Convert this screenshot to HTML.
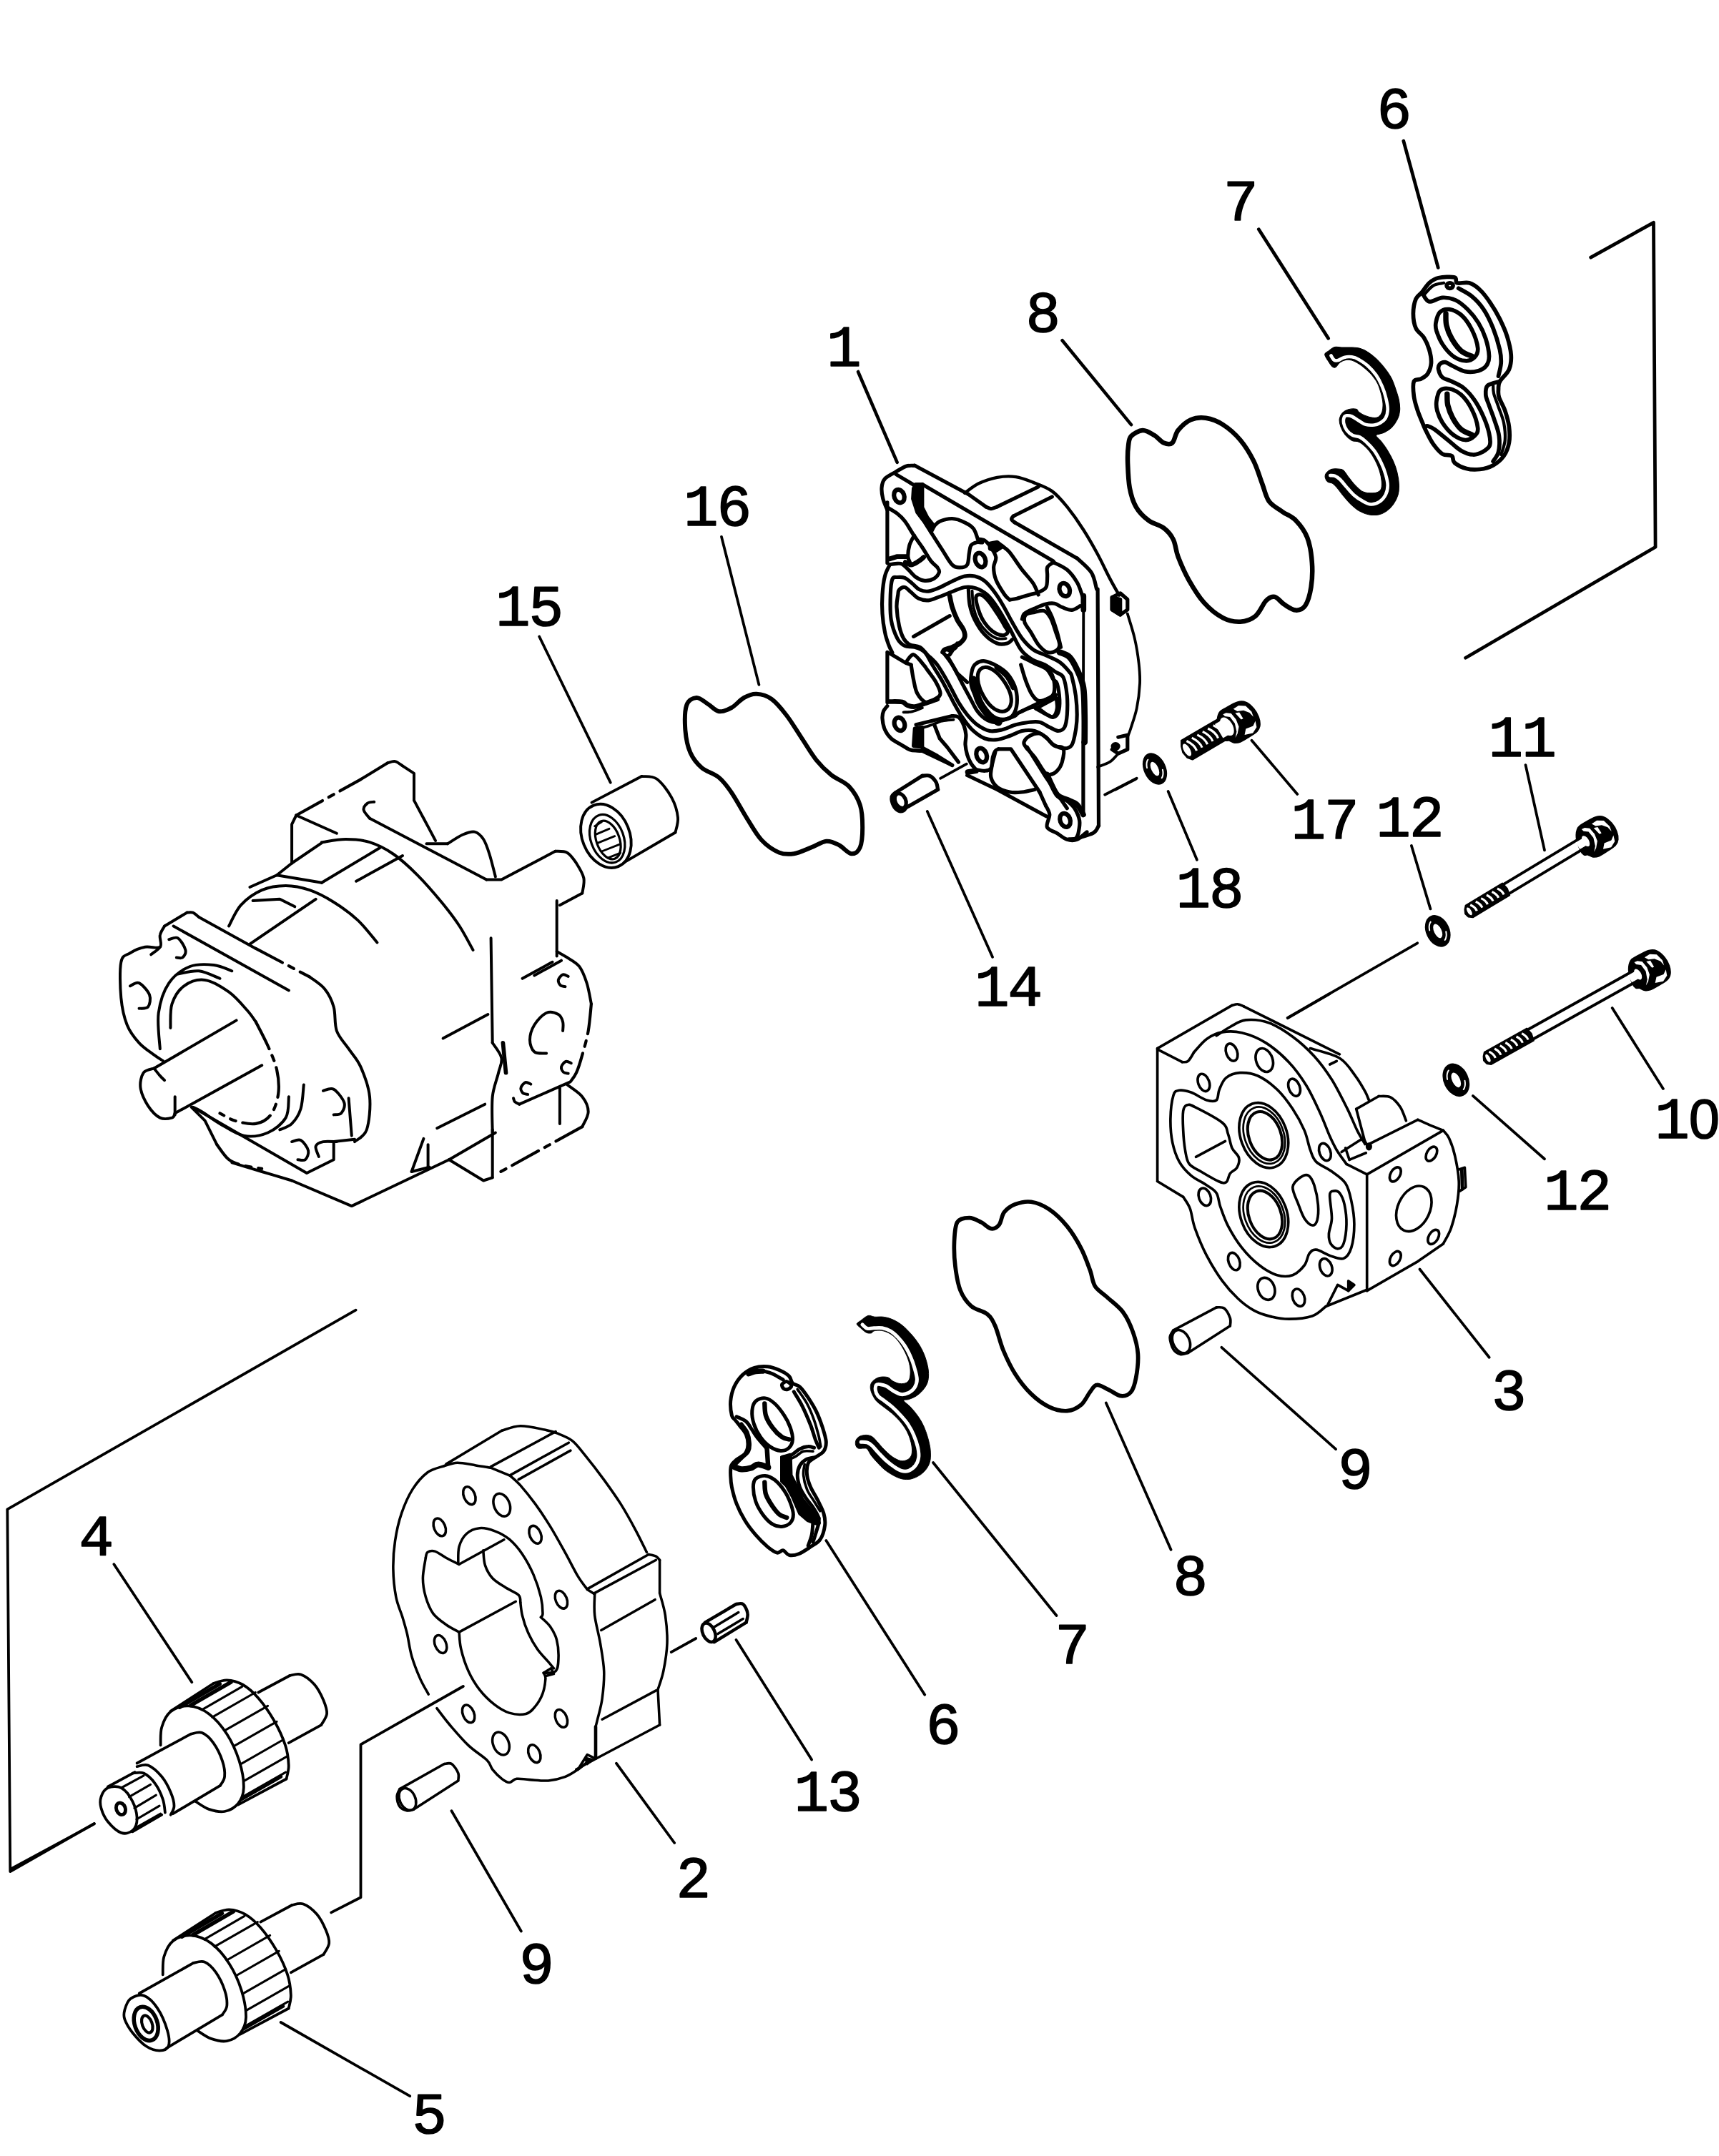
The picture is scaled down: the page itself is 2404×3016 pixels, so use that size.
<!DOCTYPE html>
<html><head><meta charset="utf-8"><title>Gear pump exploded view</title>
<style>
html,body{margin:0;padding:0;background:#fff;}
svg{display:block;}
text{font-family:"Liberation Mono",monospace;fill:#000;stroke:#000;stroke-width:1.6px;stroke-linejoin:round;}
</style></head><body>
<svg width="2404" height="3016" viewBox="0 0 2404 3016" fill="none" stroke="#000" stroke-width="5.4" stroke-linecap="round" stroke-linejoin="round">
<rect x="0" y="0" width="2404" height="3016" fill="#fff" stroke="none"/>
<!-- p01_top67.py -->
<path d="M1852.7 495.7C1852.9 493.5 1855.8 492.6 1858.1 490.9C1860.4 489.1 1863.5 486.2 1866.5 485.4C1869.5 484.6 1872.2 485.9 1876.2 486.0C1880.2 486.1 1886.4 485.8 1890.6 486.0C1894.9 486.2 1897.9 486.2 1901.5 487.2C1905.1 488.2 1908.5 489.6 1912.3 492.1C1916.2 494.5 1920.4 497.9 1924.4 501.7C1928.4 505.5 1932.8 510.3 1936.5 515.0C1940.1 519.6 1943.5 524.4 1946.1 529.4C1948.7 534.5 1950.4 540.1 1952.1 545.1C1953.8 550.1 1955.4 554.8 1956.4 559.6C1957.3 564.4 1957.9 569.6 1957.6 574.0C1957.3 578.5 1956.5 582.1 1954.5 586.1C1952.6 590.1 1949.3 594.9 1946.1 598.2C1942.9 601.4 1938.9 603.6 1935.3 605.4C1931.6 607.2 1925.0 607.0 1924.4 609.0C1923.8 611.0 1929.0 614.0 1931.6 617.5C1934.2 620.9 1937.3 624.9 1940.1 629.5C1942.9 634.1 1946.2 640.0 1948.5 645.2C1950.8 650.4 1952.6 655.4 1953.9 660.9C1955.2 666.3 1956.2 672.5 1956.4 677.7C1956.6 683.0 1956.5 687.6 1955.1 692.2C1953.8 696.8 1951.2 701.7 1948.5 705.5C1945.8 709.3 1942.3 712.7 1938.9 715.1C1935.5 717.5 1932.0 719.1 1928.0 719.9C1924.0 720.7 1919.2 720.7 1914.8 719.9C1910.3 719.1 1905.7 717.5 1901.5 715.1C1897.3 712.7 1893.3 709.1 1889.4 705.5C1885.6 701.9 1881.8 697.2 1878.6 693.4C1875.4 689.6 1872.6 685.4 1870.1 682.6C1867.7 679.7 1866.3 677.9 1864.1 676.5C1861.9 675.1 1858.7 675.5 1856.9 674.1C1855.1 672.7 1853.7 670.1 1853.3 668.1C1852.9 666.1 1853.1 664.0 1854.5 662.1C1855.9 660.2 1858.9 657.6 1861.7 656.6C1864.5 655.6 1868.5 655.8 1871.3 656.0C1874.2 656.2 1876.4 656.2 1878.6 657.8C1880.8 659.5 1882.2 662.6 1884.6 665.7C1887.0 668.8 1889.6 672.9 1893.1 676.5C1896.5 680.2 1901.1 685.2 1905.1 687.4C1909.1 689.6 1913.5 689.6 1917.2 689.8C1920.8 690.0 1924.4 689.6 1926.8 688.6C1929.2 687.6 1930.7 686.4 1931.6 683.8C1932.5 681.2 1932.6 677.1 1932.2 672.9C1931.8 668.7 1930.7 663.3 1929.2 658.4C1927.7 653.6 1925.6 648.6 1923.2 644.0C1920.8 639.4 1917.8 634.5 1914.8 630.7C1911.7 626.9 1907.9 623.3 1905.1 621.1C1902.3 618.9 1900.3 618.3 1897.9 617.5C1895.5 616.6 1893.5 617.9 1890.6 616.2C1887.8 614.6 1883.6 611.0 1881.0 607.8C1878.4 604.6 1876.3 600.6 1875.0 597.0C1873.7 593.3 1872.8 589.3 1873.2 586.1C1873.6 582.9 1875.3 579.9 1877.4 577.7C1879.5 575.5 1882.6 573.7 1885.8 572.8C1889.0 571.9 1894.3 571.6 1896.7 572.2C1899.1 572.8 1898.3 575.0 1900.3 576.5C1902.3 578.0 1905.5 580.0 1908.7 581.3C1911.9 582.6 1916.4 584.0 1919.6 584.3C1922.8 584.6 1925.8 584.4 1928.0 583.1C1930.2 581.8 1931.8 579.6 1932.8 576.5C1933.8 573.3 1934.2 568.6 1934.0 564.4C1933.8 560.2 1932.8 555.8 1931.6 551.1C1930.4 546.5 1928.8 540.9 1926.8 536.7C1924.8 532.4 1922.4 529.2 1919.6 525.8C1916.8 522.4 1913.1 519.0 1909.9 516.2C1906.7 513.4 1903.5 510.9 1900.3 508.9C1897.1 506.9 1893.7 505.0 1890.6 504.1C1887.6 503.2 1885.0 503.0 1882.2 503.5C1879.4 504.0 1876.2 505.4 1873.8 507.1C1871.3 508.8 1869.5 512.9 1867.7 513.8C1865.9 514.7 1864.7 514.2 1862.9 512.6C1861.1 510.9 1858.6 506.9 1856.9 504.1C1855.2 501.3 1852.5 497.9 1852.7 495.7Z" stroke-width="1.06" fill="#000"/>
<path d="M1861.5 497.5C1862.1 498.5 1863.9 502.4 1865.6 503.5C1867.2 504.6 1869.0 504.7 1871.3 504.1C1873.7 503.5 1876.6 500.7 1879.8 499.9C1883.0 499.1 1887.2 498.8 1890.6 499.3C1894.1 499.8 1896.7 500.9 1900.3 502.9C1903.9 504.9 1908.3 507.7 1912.3 511.3C1916.4 515.0 1921.0 519.8 1924.4 524.6C1927.8 529.4 1930.5 534.9 1932.8 540.3C1935.2 545.7 1937.0 551.7 1938.3 557.2C1939.6 562.6 1940.8 568.2 1940.7 572.8C1940.6 577.5 1939.4 581.8 1937.7 584.9C1936.0 588.0 1933.0 589.9 1930.4 591.5C1927.8 593.1 1925.4 594.1 1922.0 594.5C1918.6 594.9 1913.5 594.9 1909.9 593.9C1906.3 592.9 1903.5 590.4 1900.3 588.5C1897.1 586.6 1893.5 583.7 1890.6 582.5C1887.8 581.3 1885.2 581.1 1883.4 581.3C1881.6 581.5 1880.5 581.9 1879.8 583.7C1879.1 585.5 1878.6 589.1 1879.2 592.1C1879.8 595.1 1881.3 599.0 1883.4 601.8C1885.5 604.6 1888.8 607.4 1891.8 609.0C1894.9 610.6 1898.3 609.8 1901.5 611.4C1904.7 613.0 1907.7 615.4 1911.1 618.7C1914.6 621.9 1918.6 625.9 1922.0 630.7C1925.4 635.5 1929.0 642.2 1931.6 647.6C1934.2 653.0 1936.2 658.0 1937.7 663.3C1939.2 668.5 1940.7 674.1 1940.7 678.9C1940.7 683.8 1939.6 688.4 1937.7 692.2C1935.8 696.0 1932.6 699.6 1929.2 701.9C1925.8 704.1 1921.2 705.7 1917.2 705.5C1913.1 705.3 1909.1 702.9 1905.1 700.6C1901.1 698.4 1896.9 695.6 1893.1 692.2C1889.2 688.8 1885.4 683.8 1882.2 680.2C1879.0 676.5 1876.4 672.9 1873.8 670.5C1871.1 668.1 1868.8 666.6 1866.5 665.7C1864.3 664.8 1861.3 665.2 1860.3 665.1" stroke="#fff" stroke-width="4.6"/>
<path d="M1988.5 408.9C1991.6 405.2 1994.8 399.2 1998.7 395.8C2002.6 392.5 2005.8 390.1 2011.7 388.8C2017.6 387.5 2029.7 386.8 2034.1 388.0C2038.4 389.2 2034.4 394.5 2037.8 395.8C2041.2 397.1 2049.3 394.3 2054.6 395.8C2059.8 397.4 2064.5 400.5 2069.4 405.2C2074.4 409.8 2079.7 416.9 2084.3 423.8C2089.0 430.6 2093.5 438.4 2097.4 446.1C2101.2 453.9 2105.0 461.9 2107.6 470.3C2110.2 478.7 2112.7 488.6 2113.2 496.4C2113.7 504.1 2113.0 510.6 2110.4 516.8C2107.8 523.1 2099.9 528.9 2097.4 533.6C2094.9 538.3 2095.7 541.0 2095.5 544.8C2095.4 548.5 2094.9 551.0 2096.4 555.9C2098.0 560.9 2102.5 567.7 2104.8 574.6C2107.1 581.4 2109.5 589.4 2110.4 596.9C2111.3 604.3 2111.6 612.4 2110.4 619.2C2109.2 626.1 2106.7 632.6 2103.0 637.8C2099.2 643.1 2093.6 647.8 2088.1 650.9C2082.5 654.0 2075.7 655.7 2069.4 656.5C2063.2 657.2 2056.7 657.1 2050.8 655.5C2044.9 654.0 2037.5 650.1 2034.1 647.2C2030.7 644.2 2033.1 639.9 2030.4 637.8C2027.6 635.8 2021.7 637.8 2017.3 635.1C2013.0 632.3 2008.0 626.2 2004.3 621.1C2000.6 616.0 1997.6 609.6 1995.0 604.3C1992.3 599.1 1990.6 594.7 1988.5 589.4C1986.3 584.2 1983.8 578.6 1982.0 572.7C1980.1 566.8 1978.1 560.6 1977.3 554.1C1976.5 547.6 1975.6 537.6 1977.3 533.6C1979.0 529.6 1984.3 531.7 1987.5 529.9C1990.8 528.0 1994.5 526.2 1996.8 522.4C1999.2 518.7 2001.2 513.1 2001.5 507.5C2001.8 502.0 2000.4 494.8 1998.7 488.9C1997.0 483.0 1994.4 477.1 1991.3 472.2C1988.2 467.2 1982.6 464.7 1980.1 459.1C1977.6 453.6 1976.4 445.5 1976.4 438.7C1976.4 431.8 1978.1 423.1 1980.1 418.2C1982.1 413.2 1985.4 412.6 1988.5 408.9Z" stroke-width="5.72" fill="#fff"/>
<path d="M1989.4 410.7C1991.0 412.6 1994.1 421.0 1998.7 421.9C2003.4 422.8 2011.1 416.6 2017.3 416.3C2023.5 416.0 2030.0 417.3 2035.9 420.0C2041.8 422.8 2047.4 427.8 2052.7 433.1C2058.0 438.4 2063.4 444.9 2067.6 451.7C2071.8 458.5 2075.3 466.3 2077.8 474.0C2080.3 481.8 2082.3 492.0 2082.5 498.2C2082.6 504.4 2081.2 507.8 2078.8 511.3C2076.3 514.7 2072.5 517.3 2067.6 518.7C2062.6 520.1 2055.2 520.9 2049.0 519.6C2042.8 518.4 2035.0 513.4 2030.4 511.3C2025.7 509.1 2023.8 506.9 2021.0 506.6C2018.3 506.3 2015.2 507.7 2013.6 509.4C2012.0 511.1 2011.1 513.7 2011.7 516.8C2012.4 519.9 2014.2 525.2 2017.3 528.0C2020.4 530.8 2025.4 531.1 2030.4 533.6C2035.3 536.1 2041.8 538.6 2047.1 542.9C2052.4 547.3 2057.3 552.8 2062.0 559.7C2066.7 566.5 2071.6 576.1 2075.0 583.9C2078.4 591.6 2081.1 599.7 2082.5 606.2C2083.9 612.7 2085.0 618.6 2083.4 623.0C2081.9 627.3 2077.0 630.1 2073.2 632.3C2069.3 634.4 2065.1 636.3 2060.1 636.0C2055.2 635.7 2049.3 633.8 2043.4 630.4C2037.5 627.0 2031.0 620.5 2024.8 615.5C2018.6 610.5 2010.8 603.9 2006.2 600.6C2001.5 597.4 1999.0 596.6 1996.8 596.0C1994.7 595.3 1993.7 596.7 1993.1 596.9" stroke-width="5.72"/>
<path d="M2039.7 403.3C2042.8 405.2 2052.4 409.5 2058.3 414.5C2064.2 419.4 2070.1 425.6 2075.0 433.1C2080.0 440.5 2084.3 449.8 2088.1 459.1C2091.8 468.4 2095.5 480.9 2097.4 488.9C2099.2 497.0 2099.5 501.3 2099.2 507.5C2098.9 513.7 2096.1 523.1 2095.5 526.2" stroke-width="5.72"/>
<path d="M2097.4 533.6C2094.6 534.5 2083.9 536.1 2080.6 539.2C2077.4 542.3 2077.5 547.6 2077.8 552.2C2078.1 556.9 2080.5 561.2 2082.5 567.1C2084.5 573.0 2087.6 580.4 2089.9 587.6C2092.3 594.7 2095.5 602.5 2096.4 609.9C2097.4 617.4 2096.9 626.4 2095.5 632.3C2094.1 638.2 2089.3 643.1 2088.1 645.3" stroke-width="5.72"/>
<path d="M2088.1 537.3C2088.2 539.5 2087.8 545.1 2089.0 550.4C2090.2 555.6 2093.2 562.1 2095.5 569.0C2097.8 575.8 2101.4 583.6 2103.0 591.3C2104.5 599.1 2105.4 608.1 2104.8 615.5C2104.2 623.0 2100.2 632.6 2099.2 636.0" stroke-width="4.24"/>
<path d="M1991.3 412.6C1993.4 410.4 1999.6 402.4 2004.3 399.6C2008.9 396.8 2016.7 396.5 2019.2 395.8" stroke-width="4.24"/>
<ellipse cx="2027.6" cy="399.6" rx="4.5" ry="3.7" transform="rotate(0 2027.6 399.6)" stroke-width="5.72"/>
<path d="M2008.0 451.7C2008.8 447.3 2010.5 440.0 2013.6 436.8C2016.7 433.6 2021.7 432.1 2026.6 432.7C2031.6 433.3 2038.1 435.8 2043.4 440.5C2048.7 445.2 2054.4 453.2 2058.3 461.0C2062.2 468.8 2066.0 480.5 2066.7 487.1C2067.3 493.6 2064.9 497.1 2062.0 500.1C2059.1 503.0 2053.9 505.1 2049.0 504.7C2044.0 504.4 2037.5 502.1 2032.2 498.2C2026.9 494.4 2021.2 487.4 2017.3 481.5C2013.4 475.6 2010.5 467.8 2008.9 462.9C2007.4 457.9 2007.2 456.0 2008.0 451.7Z" stroke-width="5.72"/>
<path d="M2022.0 438.7C2022.1 441.5 2021.5 449.5 2022.9 455.4C2024.3 461.3 2026.9 468.1 2030.4 474.0C2033.8 479.9 2038.7 486.8 2043.4 490.8C2048.0 494.8 2055.8 497.0 2058.3 498.2" stroke-width="7.42"/>
<path d="M2008.9 561.5C2009.6 556.9 2010.7 549.6 2013.6 546.6C2016.5 543.7 2021.7 542.9 2026.6 543.8C2031.6 544.8 2038.1 547.4 2043.4 552.2C2048.7 557.0 2054.4 564.9 2058.3 572.7C2062.2 580.4 2066.0 592.5 2066.7 598.8C2067.3 605.0 2064.9 607.1 2062.0 609.9C2059.1 612.7 2053.9 615.8 2049.0 615.5C2044.0 615.2 2037.5 612.1 2032.2 608.1C2026.9 604.0 2021.0 596.9 2017.3 591.3C2013.6 585.7 2011.3 579.5 2009.9 574.6C2008.5 569.6 2008.3 566.2 2008.9 561.5Z" stroke-width="5.72"/>
<path d="M2023.8 551.3C2024.0 553.9 2023.4 561.4 2024.8 567.1C2026.2 572.8 2029.1 580.1 2032.2 585.7C2035.3 591.3 2039.0 596.9 2043.4 600.6C2047.7 604.3 2055.8 606.8 2058.3 608.1" stroke-width="7.42"/>
<path d="M1962.8 197.2L2011.2 374.4" stroke-width="4.77"/>
<path d="M1760.3 320.8L1857.6 473.3" stroke-width="4.77"/>
<path d="M2224.7 360.2L2312.5 311.3L2315.1 765.2L2049.6 920.3" stroke-width="4.77"/>
<!-- p02_top8.py -->
<path d="M1582.0 610.1C1585.3 606.6 1592.7 602.3 1598.0 602.1C1603.4 601.9 1609.2 605.9 1614.1 608.8C1619.0 611.7 1623.2 617.7 1627.5 619.5C1631.7 621.3 1636.2 622.4 1639.5 619.5C1642.8 616.6 1643.3 607.5 1647.5 602.1C1651.8 596.8 1658.5 590.3 1664.9 587.4C1671.4 584.5 1678.7 583.6 1686.3 584.7C1693.9 585.8 1702.4 588.9 1710.4 594.1C1718.4 599.2 1727.4 607.0 1734.5 615.5C1741.6 624.0 1748.1 634.7 1753.2 644.9C1758.4 655.2 1761.7 667.7 1765.3 677.0C1768.8 686.4 1770.0 694.6 1774.6 701.1C1779.3 707.6 1787.1 711.4 1793.4 715.8C1799.6 720.3 1806.3 721.9 1812.1 727.9C1817.9 733.9 1824.4 742.1 1828.2 752.0C1831.9 761.8 1834.0 775.2 1834.8 786.7C1835.7 798.3 1835.1 811.5 1833.5 821.5C1831.9 831.6 1829.0 841.6 1825.5 847.0C1821.9 852.3 1817.0 853.9 1812.1 853.6C1807.2 853.4 1801.0 848.7 1796.0 845.6C1791.1 842.5 1786.9 835.8 1782.7 834.9C1778.4 834.0 1775.1 835.8 1770.6 840.3C1766.2 844.7 1761.9 856.8 1755.9 861.7C1749.9 866.6 1742.1 869.3 1734.5 869.7C1726.9 870.1 1718.9 868.8 1710.4 864.4C1701.9 859.9 1691.7 851.9 1683.7 842.9C1675.6 834.0 1668.3 821.5 1662.2 810.8C1656.2 800.1 1651.1 788.1 1647.5 778.7C1644.0 769.4 1644.2 761.3 1640.8 754.6C1637.5 747.9 1633.3 743.0 1627.5 738.6C1621.7 734.1 1612.5 732.8 1606.1 727.9C1599.6 723.0 1593.0 716.7 1588.7 709.1C1584.3 701.6 1581.7 692.6 1579.8 682.4C1577.9 672.1 1577.5 657.4 1577.1 647.6C1576.8 637.8 1577.1 629.8 1578.0 623.5C1578.8 617.3 1578.6 613.7 1582.0 610.1Z" stroke-width="6.50"/>
<path d="M1485.6 476.3L1582.0 594.1" stroke-width="4.6"/>
<!-- p03_housing1.py -->
<path d="M1240.9 713.3C1239.9 710.7 1236.1 702.8 1234.8 697.6C1233.5 692.4 1232.7 686.5 1233.1 681.9C1233.5 677.2 1234.4 673.2 1237.5 669.7C1240.5 666.2 1246.5 663.9 1251.4 660.9C1256.4 658.0 1262.5 653.8 1267.1 652.2C1271.8 650.6 1277.3 651.5 1279.3 651.3" stroke-width="5.18"/>
<path d="M1279.3 651.3L1354.4 691.5" stroke-width="5.18"/>
<path d="M1253.2 663.6L1278.5 678.7" stroke-width="5.18"/>
<path d="M1280.2 677.5L1289.8 677.5L1289.8 709.8L1296.8 723.8L1306.4 736.0L1302.0 744.7L1293.3 730.8L1282.8 716.8L1276.7 697.6L1277.6 683.6Z" stroke-width="5.18" fill="#000"/>
<path d="M1289.8 677.5L1473.1 784.9" stroke-width="5.18"/>
<path d="M1240.9 702.8L1240.9 787.5" stroke-width="5.18"/>
<path d="M1240.9 709.8C1243.3 711.3 1250.8 715.3 1254.9 718.5C1259.0 721.7 1261.6 724.1 1265.4 729.0C1269.2 733.9 1273.5 742.1 1277.6 748.2C1281.7 754.3 1285.7 759.5 1289.8 765.7C1293.9 771.8 1298.5 780.2 1302.0 784.9C1305.5 789.5 1308.9 791.0 1310.8 793.6C1312.6 796.2 1314.1 797.9 1313.4 800.6C1312.6 803.2 1309.7 807.3 1306.4 809.3C1303.0 811.3 1297.5 812.7 1293.3 812.4C1289.1 812.1 1284.9 810.1 1281.1 807.5C1277.3 805.0 1273.8 800.1 1270.6 797.1C1267.4 794.0 1264.5 790.7 1261.9 789.2C1259.3 787.8 1257.8 788.3 1254.9 788.3C1252.0 788.4 1246.2 789.5 1244.4 789.7" stroke-width="5.18"/>
<path d="M1278.5 749.1C1277.4 751.3 1273.5 757.4 1272.0 762.2C1270.6 767.0 1269.7 773.8 1269.7 777.9C1269.8 781.9 1271.9 785.1 1272.4 786.6" stroke-width="5.18"/>
<path d="M1266.2 786.6C1267.6 787.2 1271.0 790.3 1274.1 790.1C1277.2 789.9 1281.7 786.9 1284.6 785.2C1287.5 783.5 1290.4 780.5 1291.6 779.6" stroke-width="6.72"/>
<path d="M1244.4 781.7L1254.0 778.7L1267.1 778.7" stroke-width="6.72"/>
<path d="M1302.0 744.7C1304.6 748.8 1312.8 761.6 1317.7 769.1C1322.7 776.7 1327.6 786.0 1331.7 790.1C1335.8 794.2 1338.7 793.9 1342.2 793.9C1345.7 793.9 1350.5 793.3 1352.6 790.1C1354.8 786.8 1354.4 778.9 1355.3 774.4C1356.1 769.9 1356.1 765.7 1357.9 763.0C1359.6 760.4 1363.1 759.3 1365.7 758.7C1368.3 758.0 1372.3 759.0 1373.6 759.0" stroke-width="5.18"/>
<path d="M1306.4 736.0C1307.7 734.9 1310.0 731.1 1314.2 729.4C1318.5 727.6 1325.9 725.3 1331.7 725.5C1337.5 725.7 1344.2 728.4 1349.1 730.8C1354.1 733.1 1358.3 735.5 1361.4 739.5C1364.4 743.4 1366.5 751.8 1367.5 754.3" stroke-width="5.18"/>
<path d="M1367.5 754.3C1369.1 754.6 1374.0 754.2 1377.1 756.1C1380.1 757.9 1383.2 761.7 1385.8 765.7C1388.4 769.6 1392.1 775.0 1392.8 779.6C1393.4 784.3 1389.6 788.3 1389.6 793.6C1389.6 798.8 1390.2 804.6 1392.8 811.0C1395.3 817.4 1401.8 827.3 1405.0 832.0C1408.2 836.6 1410.8 837.8 1412.0 839.0" stroke-width="5.18"/>
<path d="M1384.0 760.4L1394.5 758.3L1402.4 764.3L1392.8 770.5L1384.4 767.7Z" stroke-width="5.18" fill="#000"/>
<path d="M1402.4 764.3C1404.0 765.7 1407.5 767.2 1412.0 772.6C1416.5 778.1 1423.9 789.8 1429.4 797.1C1435.0 804.3 1441.3 810.4 1445.1 816.3C1448.9 822.1 1450.9 829.4 1452.1 832.0" stroke-width="5.18"/>
<path d="M1412.0 839.0C1413.7 838.7 1417.8 838.4 1422.4 837.2C1427.1 836.0 1435.0 833.4 1439.9 832.0C1444.8 830.5 1448.3 830.2 1452.1 828.5C1456.0 826.7 1460.8 825.3 1462.9 821.5C1465.0 817.7 1464.4 810.4 1464.7 805.8C1465.0 801.1 1463.3 796.8 1464.7 793.6C1466.1 790.4 1471.7 787.8 1473.1 786.6" stroke-width="5.18"/>
<ellipse cx="1371.0" cy="783.5" rx="7.0" ry="10.1" transform="rotate(-20 1371.0 783.5)" stroke-width="6.24"/>
<ellipse cx="1257.5" cy="694.1" rx="7.0" ry="9.4" transform="rotate(-20 1257.5 694.1)" stroke-width="6.24"/>
<path d="M1473.1 786.6C1476.3 788.3 1486.7 792.4 1492.3 797.1C1497.8 801.7 1502.7 808.7 1506.2 814.5C1509.7 820.3 1511.7 828.0 1513.2 832.0C1514.7 835.9 1514.9 837.1 1515.3 838.1" stroke-width="5.18"/>
<ellipse cx="1488.8" cy="825.0" rx="7.0" ry="9.4" transform="rotate(-20 1488.8 825.0)" stroke-width="6.24"/>
<path d="M1510.6 847.7C1508.7 848.6 1503.4 853.0 1499.2 853.3C1495.0 853.6 1489.3 850.9 1485.3 849.4C1481.2 847.9 1478.6 844.9 1474.8 844.2C1471.0 843.5 1467.2 843.9 1462.6 845.1C1457.9 846.2 1451.8 849.0 1446.9 851.2C1441.9 853.4 1435.8 855.7 1432.9 858.2C1430.0 860.6 1430.0 864.7 1429.4 866.0" stroke-width="5.18"/>
<path d="M1244.4 789.7C1243.3 792.4 1239.2 798.8 1237.5 805.8C1235.7 812.8 1234.5 823.2 1234.0 832.0C1233.4 840.7 1233.4 849.4 1234.0 858.2C1234.5 866.9 1236.0 877.1 1237.5 884.3C1238.9 891.6 1240.9 897.0 1242.7 901.8C1244.4 906.6 1247.1 911.2 1247.9 913.1" stroke-width="5.18"/>
<path d="M1247.9 810.2C1249.5 806.1 1252.0 807.8 1254.9 807.5C1257.8 807.2 1261.9 807.0 1265.4 808.4C1268.9 809.9 1272.4 813.5 1275.8 816.3C1279.3 819.0 1282.5 823.2 1286.3 825.0C1290.1 826.8 1293.9 827.6 1298.5 827.1C1303.2 826.6 1308.7 824.2 1314.2 821.8C1319.8 819.5 1325.9 815.7 1331.7 813.1C1337.5 810.5 1343.9 807.3 1349.1 806.1C1354.4 805.0 1358.5 805.0 1363.1 806.1C1367.8 807.2 1372.4 809.1 1377.1 812.8C1381.7 816.5 1386.7 822.7 1391.0 828.5C1395.4 834.3 1399.2 840.7 1403.2 847.7C1407.3 854.7 1411.1 862.8 1415.5 870.4C1419.8 877.9 1424.5 886.7 1429.4 893.1C1434.4 899.5 1439.3 904.7 1445.1 908.8C1450.9 912.8 1458.2 914.6 1464.3 917.5C1470.4 920.4 1476.5 922.4 1481.8 926.2C1487.0 930.0 1492.8 936.6 1495.7 940.2C1498.7 943.7 1497.8 941.9 1499.2 947.5C1500.7 953.0 1503.3 964.9 1504.5 973.6C1505.6 982.4 1506.2 992.0 1506.2 999.8C1506.2 1007.7 1505.6 1013.8 1504.5 1020.8C1503.3 1027.7 1501.8 1037.3 1499.2 1041.7C1496.6 1046.1 1493.1 1046.9 1488.8 1046.9C1484.4 1046.9 1477.4 1044.3 1473.1 1041.7C1468.7 1039.1 1466.9 1034.4 1462.6 1031.2C1458.2 1028.0 1452.4 1023.9 1446.9 1022.5C1441.3 1021.0 1435.2 1021.3 1429.4 1022.5C1423.6 1023.7 1417.8 1027.4 1412.0 1029.5C1406.2 1031.5 1400.3 1034.1 1394.5 1034.7C1388.7 1035.3 1382.9 1035.3 1377.1 1033.0C1371.3 1030.6 1364.9 1025.7 1359.6 1020.8C1354.4 1015.8 1350.0 1009.7 1345.7 1003.3C1341.3 996.9 1338.1 990.8 1333.4 982.4C1328.8 973.9 1322.7 961.4 1317.7 952.7C1312.8 944.0 1307.8 936.7 1303.8 930.0C1299.7 923.3 1297.4 916.4 1293.3 912.3C1289.2 908.1 1284.0 906.7 1279.3 905.3C1274.7 903.8 1269.4 905.6 1265.4 903.5C1261.3 901.5 1258.1 899.2 1254.9 893.1C1251.7 886.9 1247.8 877.1 1246.2 866.9C1244.6 856.7 1245.0 841.4 1245.3 832.0C1245.6 822.5 1246.3 814.2 1247.9 810.2Z" stroke-width="5.18"/>
<path d="M1255.8 832.0C1256.4 827.9 1255.9 826.7 1257.5 825.0C1259.1 823.2 1262.6 820.9 1265.4 821.5C1268.1 822.1 1270.9 825.9 1274.1 828.5C1277.3 831.1 1280.5 835.3 1284.6 837.2C1288.6 839.1 1293.6 840.3 1298.5 839.8C1303.5 839.4 1308.7 836.6 1314.2 834.6C1319.8 832.6 1325.9 829.8 1331.7 827.6C1337.5 825.4 1343.6 822.3 1349.1 821.5C1354.7 820.7 1359.6 821.2 1364.9 822.9C1370.1 824.6 1375.6 827.6 1380.6 832.0C1385.5 836.4 1389.3 841.6 1394.5 849.4C1399.8 857.3 1406.4 869.2 1412.0 879.1C1417.5 889.0 1422.4 901.5 1427.7 908.8C1432.9 916.0 1437.9 919.2 1443.4 922.7C1448.9 926.2 1455.3 926.8 1460.8 929.7C1466.4 932.6 1472.2 937.2 1476.5 940.2C1480.9 943.1 1484.4 941.9 1487.0 947.5C1489.6 953.0 1491.4 964.9 1492.3 973.6C1493.1 982.4 1492.8 992.5 1492.3 999.8C1491.7 1007.1 1490.8 1013.5 1488.8 1017.3C1486.7 1021.0 1483.5 1022.5 1480.0 1022.5C1476.5 1022.5 1472.2 1019.3 1467.8 1017.3C1463.5 1015.2 1458.5 1011.4 1453.9 1010.3C1449.2 1009.1 1445.4 1009.7 1439.9 1010.3C1434.4 1010.9 1427.1 1012.0 1420.7 1013.8C1414.3 1015.5 1407.6 1019.3 1401.5 1020.8C1395.4 1022.2 1389.9 1023.7 1384.0 1022.5C1378.2 1021.3 1371.8 1017.6 1366.6 1013.8C1361.4 1010.0 1357.0 1005.0 1352.6 999.8C1348.3 994.6 1345.1 990.2 1340.4 982.4C1335.8 974.5 1329.7 961.4 1324.7 952.7C1319.8 944.0 1315.4 936.2 1310.8 930.0C1306.1 923.8 1300.9 919.9 1296.8 915.7C1292.7 911.6 1290.4 907.6 1286.3 905.3C1282.2 902.9 1276.1 903.8 1272.4 901.8C1268.6 899.7 1266.1 897.4 1263.6 893.1C1261.2 888.7 1259.1 882.9 1257.5 875.6C1255.9 868.3 1254.3 856.7 1254.0 849.4C1253.7 842.2 1255.2 836.0 1255.8 832.0Z" stroke-width="5.18"/>
<path d="M1429.4 919.2C1432.3 920.7 1441.1 925.0 1446.9 928.0C1452.7 930.9 1460.0 932.9 1464.3 936.7C1468.7 940.5 1470.7 947.4 1473.1 950.6C1475.4 953.9 1476.8 951.5 1478.3 956.2C1479.7 960.9 1481.5 972.2 1481.8 978.9C1482.1 985.6 1481.5 992.2 1480.0 996.3C1478.6 1000.4 1475.7 1002.7 1473.1 1003.3C1470.4 1003.9 1468.7 1002.1 1464.3 999.8C1460.0 997.5 1453.3 989.9 1446.9 989.3C1440.5 988.8 1430.6 994.3 1425.9 996.3C1421.3 998.4 1422.4 999.8 1419.0 1001.6C1415.5 1003.3 1409.6 1005.3 1405.0 1006.8C1400.3 1008.2 1395.7 1010.6 1391.0 1010.3C1386.4 1010.0 1381.1 1007.7 1377.1 1005.0C1373.0 1002.4 1370.1 999.5 1366.6 994.6C1363.1 989.6 1359.6 981.8 1356.1 975.4C1352.6 969.0 1349.7 963.7 1345.7 956.2C1341.6 948.6 1336.2 937.3 1331.7 930.0C1327.2 922.7 1320.8 915.2 1318.6 912.3" stroke-width="5.18"/>
<path d="M1328.2 833.7C1328.8 836.3 1329.9 843.9 1331.7 849.4C1333.4 855.0 1336.1 861.6 1338.7 866.9C1341.3 872.1 1345.7 876.8 1347.4 880.8C1349.1 884.9 1350.0 888.1 1349.1 891.3C1348.3 894.5 1345.1 897.7 1342.2 900.0C1339.3 902.4 1335.2 903.8 1331.7 905.3C1328.2 906.7 1323.4 907.6 1321.2 908.8C1319.0 909.9 1319.0 911.7 1318.6 912.3" stroke-width="6.72"/>
<path d="M1277.6 890.4L1328.2 861.6" stroke-width="5.18"/>
<ellipse cx="1331.7" cy="907.0" rx="6.6" ry="2.4" transform="rotate(-25 1331.7 907.0)" stroke-width="3.84"/>
<path d="M1338.7 900.0C1336.9 902.7 1329.9 913.1 1328.2 915.7" stroke-width="5.18"/>
<path d="M1324.7 917.5L1338.7 941.9L1352.6 954.4" stroke-width="5.18"/>
<path d="M1354.4 825.0C1354.7 828.5 1354.7 839.0 1356.1 845.9C1357.6 852.9 1359.6 859.9 1363.1 866.9C1366.6 873.9 1371.8 882.3 1377.1 887.8C1382.3 893.3 1389.3 898.0 1394.5 900.0C1399.8 902.1 1405.0 900.9 1408.5 900.0C1412.0 899.2 1414.3 895.7 1415.5 894.8" stroke-width="5.18"/>
<path d="M1359.6 826.7C1359.9 830.5 1359.9 842.4 1361.4 849.4C1362.8 856.4 1365.1 862.8 1368.3 868.6C1371.5 874.4 1376.2 880.3 1380.6 884.3C1384.9 888.4 1390.2 891.6 1394.5 893.1C1398.9 894.5 1404.7 893.1 1406.7 893.1" stroke-width="3.84"/>
<path d="M1364.9 835.5C1365.4 832.0 1368.9 831.1 1371.8 832.0C1374.7 832.8 1378.5 836.3 1382.3 840.7C1386.1 845.1 1390.7 852.3 1394.5 858.2C1398.3 864.0 1402.5 871.2 1405.0 875.6C1407.5 880.0 1409.9 882.1 1409.4 884.3C1408.8 886.5 1405.1 889.0 1401.5 888.7C1397.9 888.4 1391.9 885.9 1387.5 882.6C1383.2 879.2 1378.5 873.6 1375.3 868.6C1372.1 863.7 1370.1 858.4 1368.3 852.9C1366.6 847.4 1364.3 839.0 1364.9 835.5Z" stroke-width="5.18"/>
<path d="M1434.7 859.9C1437.0 857.6 1442.5 857.3 1446.9 856.4C1451.2 855.5 1457.1 853.2 1460.8 854.7C1464.6 856.1 1466.9 860.2 1469.6 865.1C1472.2 870.1 1474.5 878.2 1476.5 884.3C1478.6 890.4 1481.8 897.4 1481.8 901.8C1481.8 906.1 1479.5 908.8 1476.5 910.5C1473.6 912.3 1468.4 913.7 1464.3 912.3C1460.3 910.8 1455.9 906.4 1452.1 901.8C1448.3 897.1 1444.8 889.6 1441.6 884.3C1438.4 879.1 1434.1 874.4 1432.9 870.4C1431.8 866.3 1432.3 862.2 1434.7 859.9Z" stroke-width="5.18"/>
<path d="M1464.3 849.4C1465.5 851.8 1469.0 857.6 1471.3 863.4C1473.6 869.2 1476.3 877.3 1478.3 884.3C1480.3 891.3 1482.7 901.8 1483.5 905.3" stroke-width="5.18"/>
<path d="M1359.6 937.0C1358.5 941.6 1357.0 949.8 1357.9 956.2C1358.7 962.6 1361.7 969.0 1364.9 975.4C1368.1 981.8 1372.1 989.6 1377.1 994.6C1382.0 999.5 1389.0 1003.3 1394.5 1005.0C1400.0 1006.8 1406.2 1006.5 1410.2 1005.0C1414.3 1003.6 1416.9 1000.7 1419.0 996.3C1421.0 992.0 1422.4 985.0 1422.4 978.9C1422.4 972.8 1421.3 965.8 1419.0 959.7C1416.6 953.6 1412.6 946.9 1408.5 942.2C1404.4 937.6 1399.8 934.7 1394.5 931.7C1389.3 928.8 1382.0 925.3 1377.1 924.8C1372.1 924.2 1367.8 926.2 1364.9 928.3C1361.9 930.3 1360.8 932.3 1359.6 937.0Z" stroke-width="5.18"/>
<path d="M1368.3 940.5C1369.8 936.7 1373.3 933.8 1377.1 933.5C1380.8 933.2 1386.4 935.2 1391.0 938.7C1395.7 942.2 1401.2 948.6 1405.0 954.4C1408.8 960.3 1412.6 967.8 1413.7 973.6C1414.9 979.4 1414.0 985.7 1412.0 989.3C1409.9 993.0 1405.6 995.4 1401.5 995.4C1397.4 995.4 1391.9 993.0 1387.5 989.3C1383.2 985.7 1378.5 979.2 1375.3 973.6C1372.1 968.1 1369.5 961.7 1368.3 956.2C1367.2 950.7 1366.9 944.3 1368.3 940.5Z" stroke-width="5.18"/>
<path d="M1361.4 950.9C1362.5 955.6 1364.9 970.7 1368.3 978.9C1371.8 987.0 1377.6 994.6 1382.3 999.8C1387.0 1005.0 1393.9 1008.5 1396.3 1010.3" stroke-width="10.56"/>
<path d="M1394.5 933.5C1396.8 935.5 1404.7 941.1 1408.5 945.7C1412.3 950.4 1415.8 958.8 1417.2 961.4" stroke-width="7.68"/>
<path d="M1481.8 912.3C1484.1 913.4 1491.7 915.2 1495.7 919.2C1499.8 923.3 1503.0 929.7 1506.2 936.7C1509.4 943.7 1513.2 950.9 1514.9 961.4C1516.7 971.9 1516.4 987.0 1516.7 999.8C1517.0 1012.6 1516.7 1031.8 1516.7 1038.2" stroke-width="8.64"/>
<path d="M1515.3 833.7L1515.3 852.9" stroke-width="7.68"/>
<path d="M1514.9 1038.2L1514.9 1139.4" stroke-width="5.18"/>
<path d="M1515.3 838.1L1514.9 1038.2" stroke-width="3.84"/>
<path d="M1240.9 912.3L1240.9 982.4" stroke-width="5.18"/>
<path d="M1243.6 981.5C1246.6 981.6 1257.7 981.1 1261.9 982.0C1266.1 982.9 1266.0 985.6 1268.9 986.7C1271.8 987.8 1275.3 988.9 1279.3 988.5C1283.4 988.0 1288.1 985.8 1293.3 984.1C1298.5 982.4 1307.8 979.0 1310.8 978.0" stroke-width="6.72"/>
<path d="M1240.9 987.6C1240.1 988.8 1236.9 991.7 1235.7 994.6C1234.5 997.5 1233.7 1000.7 1234.0 1005.0C1234.3 1009.4 1235.4 1016.1 1237.5 1020.8C1239.5 1025.4 1242.4 1029.5 1246.2 1033.0C1250.0 1036.5 1255.8 1039.1 1260.1 1041.7C1264.5 1044.3 1268.6 1047.3 1272.4 1048.7C1276.1 1050.1 1279.9 1049.8 1282.8 1050.1C1285.7 1050.4 1288.6 1050.4 1289.8 1050.4" stroke-width="5.18"/>
<path d="M1289.8 1050.4L1331.7 1070.5" stroke-width="5.18"/>
<path d="M1263.6 996.3C1265.7 996.2 1271.5 996.5 1275.8 995.4C1280.2 994.4 1287.5 991.1 1289.8 990.2" stroke-width="3.84"/>
<path d="M1274.1 930.0C1274.7 933.5 1276.1 944.3 1277.6 950.9C1279.0 957.6 1279.9 964.9 1282.8 970.1C1285.7 975.4 1290.7 981.2 1295.0 982.4C1299.4 983.5 1305.7 979.2 1309.0 977.1C1312.4 975.1 1315.1 973.9 1315.1 970.1C1315.1 966.4 1312.1 960.0 1309.0 954.4C1306.0 948.9 1299.7 941.1 1296.8 937.0C1293.9 932.9 1294.8 933.5 1291.6 930.0C1288.4 926.5 1281.7 916.4 1277.6 915.7C1273.5 915.1 1268.9 924.5 1267.1 926.2" stroke-width="5.18"/>
<path d="M1244.4 914.0L1267.1 927.6L1274.1 930.0" stroke-width="5.18"/>
<path d="M1281.1 1013.8L1331.7 1001.6" stroke-width="5.18"/>
<path d="M1331.7 1001.6C1333.1 1001.8 1337.8 1001.3 1340.4 1003.3C1343.0 1005.3 1345.7 1009.7 1347.4 1013.8C1349.1 1017.8 1350.5 1023.1 1350.9 1027.7C1351.3 1032.4 1349.7 1037.0 1350.0 1041.7C1350.3 1046.3 1351.3 1051.3 1352.6 1055.7C1353.9 1060.0 1355.8 1064.4 1357.9 1067.9C1359.9 1071.4 1363.7 1075.1 1364.9 1076.6" stroke-width="5.18"/>
<path d="M1279.3 1019.0L1289.8 1017.3L1289.8 1045.2L1277.6 1043.4Z" stroke-width="5.18" fill="#000"/>
<path d="M1307.3 1015.5L1314.2 1033.0L1324.7 1045.2L1340.4 1066.1" stroke-width="5.18"/>
<path d="M1289.8 1018.1C1292.1 1017.4 1299.1 1015.4 1303.8 1013.8C1308.4 1012.2 1312.8 1009.7 1317.7 1008.5C1322.7 1007.4 1330.8 1007.1 1333.4 1006.8" stroke-width="3.84"/>
<path d="M1289.8 1046.1L1310.8 1057.4L1331.7 1070.5" stroke-width="5.18"/>
<ellipse cx="1258.0" cy="1012.9" rx="7.0" ry="9.4" transform="rotate(-20 1258.0 1012.9)" stroke-width="6.24"/>
<ellipse cx="1372.7" cy="1056.5" rx="7.0" ry="10.1" transform="rotate(-20 1372.7 1056.5)" stroke-width="6.24"/>
<path d="M1364.9 1076.6C1366.9 1076.9 1373.6 1078.6 1377.1 1078.3C1380.6 1078.1 1383.9 1078.1 1385.8 1074.9C1387.7 1071.7 1387.4 1063.2 1388.4 1059.1C1389.4 1055.1 1390.6 1052.3 1391.9 1050.4C1393.2 1048.5 1395.5 1048.2 1396.3 1047.8" stroke-width="5.18"/>
<path d="M1353.5 1080.1L1364.9 1078.3" stroke-width="7.68"/>
<path d="M1352.6 1084.5L1394.5 1104.5L1463.5 1142.0" stroke-width="5.18"/>
<path d="M1396.3 1047.8L1413.7 1047.8L1453.9 1108.0" stroke-width="5.18"/>
<path d="M1391.9 1052.2C1391.2 1055.1 1388.6 1063.8 1387.5 1069.6C1386.5 1075.4 1384.6 1081.8 1385.8 1087.1C1387.0 1092.3 1390.2 1097.5 1394.5 1101.0C1398.9 1104.5 1406.2 1106.8 1412.0 1108.0C1417.8 1109.2 1423.6 1108.6 1429.4 1108.0C1435.2 1107.4 1444.0 1105.1 1446.9 1104.5" stroke-width="5.18"/>
<path d="M1453.9 1108.0L1462.6 1127.2" stroke-width="5.18"/>
<path d="M1462.6 1127.2C1463.5 1129.2 1467.5 1134.5 1467.8 1139.4C1468.1 1144.4 1462.6 1152.5 1464.3 1156.9C1466.1 1161.2 1473.6 1162.7 1478.3 1165.6C1482.9 1168.5 1487.6 1172.9 1492.3 1174.3C1496.9 1175.8 1501.6 1176.1 1506.2 1174.3C1510.8 1172.6 1517.7 1165.6 1520.0 1163.9" stroke-width="5.18"/>
<path d="M1436.4 1045.2L1462.6 1087.1L1492.3 1130.7" stroke-width="5.18"/>
<path d="M1492.3 1120.2C1494.0 1122.0 1499.8 1126.0 1502.7 1130.7C1505.6 1135.4 1508.8 1142.3 1509.7 1148.2C1510.6 1154.0 1508.8 1161.4 1508.0 1165.6C1507.1 1169.8 1505.0 1172.1 1504.5 1173.5" stroke-width="5.18"/>
<ellipse cx="1489.6" cy="1147.3" rx="7.0" ry="9.8" transform="rotate(-20 1489.6 1147.3)" stroke-width="6.24"/>
<path d="M1464.3 1083.6C1466.7 1088.2 1473.6 1105.7 1478.3 1111.5C1482.9 1117.3 1487.6 1116.2 1492.3 1118.5C1496.9 1120.8 1502.4 1122.0 1506.2 1125.5C1510.0 1129.0 1513.5 1137.1 1514.9 1139.4" stroke-width="7.68"/>
<path d="M1432.0 1038.2C1432.9 1035.6 1436.3 1031.5 1439.9 1029.5C1443.5 1027.4 1449.8 1025.4 1453.9 1026.0C1457.9 1026.6 1460.8 1030.1 1464.3 1033.0C1467.8 1035.9 1471.0 1041.1 1474.8 1043.4C1478.6 1045.8 1485.3 1043.1 1487.0 1046.9C1488.8 1050.7 1486.7 1060.9 1485.3 1066.1C1483.8 1071.4 1481.2 1075.4 1478.3 1078.3C1475.4 1081.3 1470.7 1083.3 1467.8 1083.6C1464.9 1083.9 1464.3 1084.2 1460.8 1080.1C1457.3 1076.0 1451.2 1065.0 1446.9 1059.1C1442.5 1053.3 1437.1 1048.7 1434.7 1045.2C1432.2 1041.7 1431.2 1040.8 1432.0 1038.2Z" stroke-width="5.18"/>
<path d="M1425.9 996.3L1476.5 971.9" stroke-width="5.18"/>
<path d="M1448.6 991.1L1476.5 976.2" stroke-width="5.18"/>
<path d="M1448.6 991.1C1451.2 992.5 1460.3 997.9 1464.3 999.8C1468.4 1001.7 1470.7 1003.9 1473.1 1002.4C1475.4 1001.0 1477.6 995.3 1478.3 991.1C1479.0 986.9 1477.6 979.4 1477.4 977.1" stroke-width="5.18"/>
<path d="M1427.7 930.0C1428.8 933.8 1432.0 945.7 1434.7 952.7C1437.3 959.7 1440.2 967.2 1443.4 971.9C1446.6 976.5 1449.2 980.3 1453.9 980.6C1458.5 980.9 1467.8 976.8 1471.3 973.6C1474.8 970.4 1474.8 966.4 1474.8 961.4C1474.8 956.5 1473.6 949.2 1471.3 944.0C1469.0 938.7 1462.6 932.3 1460.8 930.0" stroke-width="5.18"/>
<path d="M1349.1 689.7C1352.3 687.6 1360.8 680.3 1368.3 676.6C1375.9 673.0 1385.8 669.5 1394.5 667.9C1403.2 666.3 1412.3 665.9 1420.7 667.1C1429.1 668.2 1436.7 671.6 1445.1 674.9C1453.6 678.2 1463.5 681.4 1471.3 687.1C1479.2 692.8 1485.0 700.0 1492.3 708.9C1499.5 717.9 1507.8 729.6 1514.9 740.7C1522.1 751.8 1528.8 763.8 1535.0 775.3C1541.2 786.7 1547.3 800.1 1552.3 809.6C1557.3 819.2 1563.0 828.8 1565.2 832.7" stroke-width="4.42"/>
<path d="M1354.4 691.5L1378.8 708.9" stroke-width="5.18"/>
<path d="M1378.8 708.9C1380.0 709.4 1383.2 711.6 1385.8 711.6C1388.4 711.6 1393.1 709.4 1394.5 708.9" stroke-width="5.18"/>
<path d="M1394.5 708.9L1452.1 681.0" stroke-width="5.18"/>
<path d="M1471.3 695.0L1417.2 722.0" stroke-width="5.18"/>
<path d="M1417.2 722.0C1416.8 722.8 1414.3 724.9 1414.6 726.4C1414.9 727.8 1418.2 730.0 1419.0 730.8" stroke-width="5.18"/>
<path d="M1419.0 730.8L1506.2 781.0" stroke-width="5.18"/>
<ellipse cx="1259.3" cy="1120.2" rx="7.3" ry="10.8" transform="rotate(-25 1259.3 1120.2)" stroke-width="5.18"/>
<path d="M1252.3 1108.9L1289.8 1085.3" stroke-width="5.18"/>
<path d="M1289.8 1085.3C1291.6 1085.3 1297.1 1083.9 1300.3 1085.3C1303.5 1086.8 1307.1 1090.8 1309.0 1094.0C1310.9 1097.2 1311.2 1102.8 1311.6 1104.5" stroke-width="5.18"/>
<path d="M1311.6 1104.5L1267.1 1129.8" stroke-width="5.18"/>
<path d="M1252.3 1108.9C1251.4 1109.9 1247.5 1111.9 1247.1 1115.0C1246.6 1118.0 1248.1 1124.0 1249.7 1127.2C1251.3 1130.4 1254.3 1133.1 1256.6 1134.2C1259.0 1135.3 1261.9 1134.6 1263.6 1133.8C1265.4 1133.1 1266.5 1130.5 1267.1 1129.8" stroke-width="5.18"/>
<path d="M1315.1 1088.8L1351.8 1068.7" stroke-width="3.8"/>
<path d="M1506.3 780.9C1509.6 784.3 1521.9 793.9 1526.4 801.1C1531.0 808.3 1532.4 820.2 1533.6 824.1" stroke-width="5.18"/>
<path d="M1535.1 824.1L1536.5 1154.9" stroke-width="5.18"/>
<path d="M1536.5 1154.9C1535.3 1156.5 1534.3 1162.0 1529.3 1164.9C1524.3 1167.9 1512.0 1171.2 1506.3 1172.7C1500.5 1174.2 1496.7 1173.7 1494.8 1173.8" stroke-width="5.18"/>
<path d="M1555.2 835.6L1566.7 829.8L1576.8 838.5L1576.8 852.8L1566.7 860.0L1555.2 852.8Z" stroke-width="5.18"/>
<path d="M1555.2 835.6L1566.7 838.5L1566.7 860.0L1555.2 852.8Z" stroke-width="5.18" fill="#000"/>
<path d="M1576.8 858.6C1578.4 864.4 1584.2 881.6 1586.8 893.1C1589.5 904.6 1591.4 917.1 1592.6 927.6C1593.8 938.2 1594.5 945.8 1594.0 956.4C1593.5 966.9 1591.9 980.4 1589.7 990.9C1587.5 1001.5 1583.2 1013.0 1581.1 1019.7C1578.9 1026.4 1577.5 1029.3 1576.8 1031.2" stroke-width="3.84"/>
<path d="M1563.8 1031.2L1576.8 1028.3L1576.8 1048.4L1563.8 1054.2L1555.2 1048.4" stroke-width="5.18"/>
<ellipse cx="1560.1" cy="1044.1" rx="4.0" ry="3.5" transform="rotate(0 1560.1 1044.1)" stroke-width="5.18" fill="#000"/>
<path d="M1563.8 1054.2C1561.9 1056.1 1557.1 1062.6 1552.3 1065.7C1547.5 1068.8 1537.9 1071.7 1535.1 1072.9" stroke-width="3.84"/>
<!-- p04_1516.py -->
<path d="M960.2 986.5C962.8 978.9 969.2 976.3 974.1 976.0C979.1 975.7 984.6 981.5 989.8 984.7C995.1 987.9 1000.0 994.3 1005.5 995.2C1011.1 996.1 1017.2 993.2 1023.0 990.0C1028.8 986.8 1034.6 979.2 1040.5 976.0C1046.3 972.8 1051.5 970.5 1057.9 970.8C1064.3 971.1 1071.9 972.8 1078.8 977.8C1085.8 982.7 1092.8 991.4 1099.8 1000.5C1106.8 1009.5 1113.8 1021.4 1120.7 1031.9C1127.7 1042.3 1134.7 1054.6 1141.7 1063.3C1148.7 1072.0 1155.1 1078.1 1162.6 1084.2C1170.2 1090.3 1180.4 1092.9 1187.1 1099.9C1193.7 1106.9 1199.6 1116.5 1202.8 1126.1C1206.0 1135.7 1206.2 1147.6 1206.2 1157.5C1206.2 1167.4 1205.4 1179.3 1202.8 1185.4C1200.1 1191.6 1195.5 1194.8 1190.5 1194.2C1185.6 1193.6 1178.9 1184.9 1173.1 1182.0C1167.3 1179.0 1162.0 1176.1 1155.6 1176.7C1149.2 1177.3 1142.3 1182.5 1134.7 1185.4C1127.1 1188.4 1117.8 1193.0 1110.3 1194.2C1102.7 1195.3 1096.9 1195.6 1089.3 1192.4C1081.8 1189.2 1072.4 1183.1 1064.9 1175.0C1057.3 1166.8 1050.9 1154.6 1043.9 1143.6C1037.0 1132.5 1029.4 1118.0 1023.0 1108.7C1016.6 1099.3 1012.5 1093.5 1005.5 1087.7C998.6 1081.9 987.8 1079.6 981.1 1073.8C974.4 1067.9 969.2 1061.5 965.4 1052.8C961.6 1044.1 959.3 1032.4 958.4 1021.4C957.6 1010.3 957.6 994.1 960.2 986.5Z" stroke-width="6.00"/>
<path d="M1009.0 750.9L1061.4 957.9" stroke-width="3.8"/>
<path d="M754.2 890.5L853.7 1094.7" stroke-width="3.8"/>
<path d="M827.5 1122.6L897.3 1086.0" stroke-width="3.89"/>
<path d="M897.3 1086.0C900.8 1086.6 911.3 1084.5 918.3 1089.5C925.3 1094.4 934.3 1106.6 939.2 1115.6C944.2 1124.7 947.1 1135.4 948.0 1143.6C948.8 1151.7 945.0 1161.0 944.5 1164.5" stroke-width="3.89"/>
<path d="M944.5 1164.5L872.9 1206.4" stroke-width="3.89"/>
<ellipse cx="847.4" cy="1169.4" rx="33.2" ry="46.1" transform="rotate(-22 847.4 1169.4)" stroke-width="3.89"/>
<ellipse cx="849.2" cy="1173.2" rx="23.0" ry="34.9" transform="rotate(-20 849.2 1173.2)" stroke-width="3.24"/>
<ellipse cx="850.2" cy="1175.0" rx="16.1" ry="27.9" transform="rotate(-20 850.2 1175.0)" stroke-width="3.24"/>
<path d="M831.7 1155.8L841.5 1149.8" stroke-width="2.88"/>
<path d="M833.1 1167.3L852.0 1159.3" stroke-width="2.88"/>
<path d="M836.3 1179.2L859.7 1169.7" stroke-width="2.88"/>
<path d="M841.5 1191.0L865.9 1181.3" stroke-width="2.88"/>
<path d="M850.2 1200.1L867.7 1193.1" stroke-width="2.88"/>
<!-- p05_bolts.py -->
<path d="M1702.3 1008.9L1710.1 1004.3" stroke-width="4"/>
<path d="M1715.7 1031.8L1723.5 1027.3" stroke-width="4"/>
<polygon points="1652.1,1043.9 1652.0,1035.8 1702.9,1006.0 1712.5,1018.3 1718.6,1032.7 1667.7,1062.6 1660.2,1059.7 1654.2,1052.5" fill="#000" stroke="#000" stroke-width="2"/>
<ellipse cx="1660.0" cy="1049.1" rx="4.3" ry="9.6" transform="rotate(-30.3716 1660.0 1049.1)" fill="#fff" stroke="none"/>
<path d="M1659.4 1036.5Q1670.6 1042.0 1673.6 1050.1" stroke="#fff" stroke-width="3.1" stroke-linecap="butt"/>
<path d="M1666.8 1032.1Q1678.1 1037.6 1681.1 1045.7" stroke="#fff" stroke-width="3.1" stroke-linecap="butt"/>
<path d="M1674.3 1027.8Q1685.6 1033.2 1688.6 1041.3" stroke="#fff" stroke-width="3.1" stroke-linecap="butt"/>
<path d="M1681.8 1023.4Q1693.1 1028.8 1696.0 1037.0" stroke="#fff" stroke-width="3.1" stroke-linecap="butt"/>
<path d="M1689.3 1019.0Q1700.5 1024.4 1703.5 1032.6" stroke="#fff" stroke-width="3.1" stroke-linecap="butt"/>
<path d="M1696.7 1014.6Q1708.0 1020.1 1711.0 1028.2" stroke="#fff" stroke-width="3.1" stroke-linecap="butt"/>
<path d="M1702.7 1011.0C1702.3 1005.8 1703.3 1000.4 1705.3 996.9C1707.4 993.4 1710.6 992.5 1714.9 990.1C1719.1 987.6 1726.3 983.3 1730.8 982.1C1735.4 980.8 1738.5 980.9 1742.2 982.5C1746.0 984.0 1750.3 988.0 1753.3 991.4C1756.3 994.9 1758.6 999.2 1760.0 1003.1C1761.4 1006.9 1762.1 1011.2 1761.8 1014.5C1761.4 1017.8 1760.5 1020.2 1757.9 1023.0C1755.3 1025.7 1750.1 1028.6 1746.2 1031.1C1742.3 1033.6 1737.9 1036.5 1734.6 1037.8C1731.2 1039.1 1728.6 1039.3 1726.0 1038.9C1723.4 1038.6 1721.1 1036.4 1718.9 1035.8C1716.8 1035.3 1715.1 1036.9 1713.2 1035.6C1711.4 1034.4 1709.6 1032.4 1707.8 1028.3C1706.0 1024.2 1703.1 1016.3 1702.7 1011.0Z" fill="#000" stroke="#000" stroke-width="2"/>
<ellipse cx="1715.9" cy="1016.3" rx="9.6" ry="15.8" transform="rotate(-30.3716 1715.9 1016.3)" fill="#fff" stroke="#000" stroke-width="3.4"/>
<polygon points="1699.0,1013.1 1710.2,1006.6 1721.7,1026.1 1710.4,1032.6" fill="#fff" stroke="none"/>
<polygon points="1710.3,999.2 1714.6,997.2 1721.7,998.1 1728.5,1006.2 1732.5,1016.4 1730.7,1026.3 1727.6,1031.9 1729.4,1023.4 1726.9,1011.9 1720.1,1003.1 1713.0,1002.1" fill="#fff" stroke="none"/>
<polygon points="1724.8,991.8 1732.1,987.1 1742.0,987.5 1750.3,995.6 1752.9,1002.8 1747.4,996.9 1739.0,993.8 1730.4,994.9" fill="#fff" stroke="none"/>
<polygon points="1742.3,1019.6 1752.5,1015.6 1755.6,1008.6 1757.4,1017.2 1752.1,1025.6 1740.6,1028.0" fill="#fff" stroke="none"/>
<polygon points="1727.4,997.6 1733.2,996.4 1738.6,1005.2 1735.7,1006.5" fill="#fff" stroke="none"/>
<ellipse cx="1615.0" cy="1075.5" rx="14.7" ry="22.6" transform="rotate(-25 1615.0 1075.5)" fill="#000" stroke="#000" stroke-width="1.5"/>
<ellipse cx="1615.0" cy="1075.5" rx="4.9" ry="10.6" transform="rotate(-25 1615.0 1075.5)" fill="#fff" stroke="none"/>
<path d="M1625.9 1076.7C1626.0 1077.2 1626.3 1078.5 1626.4 1079.4C1626.5 1080.3 1626.5 1081.2 1626.5 1082.0C1626.5 1082.8 1626.4 1083.6 1626.2 1084.4C1626.1 1085.1 1625.9 1085.9 1625.7 1086.5C1625.4 1087.2 1624.9 1088.0 1624.7 1088.3" stroke="#fff" stroke-width="2"/>
<path d="M1604.1 1074.3C1604.0 1073.8 1603.7 1072.5 1603.6 1071.6C1603.5 1070.7 1603.5 1069.8 1603.5 1069.0C1603.5 1068.2 1603.6 1067.4 1603.8 1066.6C1603.9 1065.9 1604.1 1065.1 1604.3 1064.5C1604.6 1063.8 1605.1 1063.0 1605.3 1062.7" stroke="#fff" stroke-width="2"/>
<path d="M2100.5 1238.4L2214.6 1169.6" stroke-width="4"/>
<path d="M2108.3 1251.4L2222.4 1182.6" stroke-width="4"/>
<polygon points="2048.5,1272.3 2049.7,1266.5 2101.0,1235.5 2107.8,1242.9 2111.2,1252.3 2059.8,1283.3 2053.5,1282.5 2049.1,1278.2" fill="#000" stroke="#000" stroke-width="2"/>
<ellipse cx="2054.9" cy="1274.8" rx="2.7" ry="6.1" transform="rotate(-31.0909 2054.9 1274.8)" fill="#fff" stroke="none"/>
<path d="M2056.2 1265.7Q2063.4 1269.1 2065.3 1274.2" stroke="#fff" stroke-width="3.2" stroke-linecap="butt"/>
<path d="M2063.8 1261.2Q2070.9 1264.5 2072.9 1269.6" stroke="#fff" stroke-width="3.2" stroke-linecap="butt"/>
<path d="M2071.3 1256.6Q2078.5 1259.9 2080.4 1265.1" stroke="#fff" stroke-width="3.2" stroke-linecap="butt"/>
<path d="M2078.9 1252.0Q2086.1 1255.4 2088.0 1260.5" stroke="#fff" stroke-width="3.2" stroke-linecap="butt"/>
<path d="M2086.5 1247.5Q2093.6 1250.8 2095.6 1255.9" stroke="#fff" stroke-width="3.2" stroke-linecap="butt"/>
<path d="M2094.0 1242.9Q2101.2 1246.3 2103.1 1251.4" stroke="#fff" stroke-width="3.2" stroke-linecap="butt"/>
<path d="M2204.6 1171.6C2204.2 1166.5 2205.1 1161.1 2207.0 1157.7C2209.0 1154.2 2212.1 1153.4 2216.3 1150.9C2220.4 1148.4 2227.4 1144.2 2231.8 1142.9C2236.3 1141.6 2239.3 1141.6 2243.0 1143.1C2246.7 1144.6 2251.0 1148.4 2254.0 1151.7C2256.9 1155.1 2259.3 1159.3 2260.7 1163.1C2262.1 1166.8 2262.9 1171.0 2262.6 1174.3C2262.3 1177.6 2261.4 1179.9 2258.9 1182.6C2256.4 1185.3 2251.3 1188.3 2247.5 1190.7C2243.7 1193.2 2239.5 1196.1 2236.2 1197.5C2232.9 1198.8 2230.3 1199.0 2227.8 1198.7C2225.2 1198.4 2222.9 1196.2 2220.9 1195.7C2218.8 1195.2 2217.1 1196.8 2215.3 1195.6C2213.4 1194.4 2211.6 1192.5 2209.8 1188.5C2208.1 1184.5 2205.1 1176.7 2204.6 1171.6Z" fill="#000" stroke="#000" stroke-width="2"/>
<ellipse cx="2217.6" cy="1176.6" rx="6.1" ry="10.0" transform="rotate(-31.0909 2217.6 1176.6)" fill="#fff" stroke="#000" stroke-width="3.4"/>
<polygon points="2203.6,1178.5 2214.8,1171.8 2220.5,1181.4 2209.4,1188.1" fill="#fff" stroke="none"/>
<polygon points="2211.9,1159.9 2216.1,1157.9 2223.1,1158.7 2229.9,1166.6 2233.9,1176.4 2232.2,1186.2 2229.3,1191.7 2230.9,1183.4 2228.4,1172.1 2221.6,1163.6 2214.6,1162.7" fill="#fff" stroke="none"/>
<polygon points="2226.0,1152.5 2233.1,1147.8 2242.9,1148.0 2251.1,1155.9 2253.7,1162.9 2248.3,1157.2 2240.0,1154.2 2231.5,1155.4" fill="#fff" stroke="none"/>
<polygon points="2243.6,1179.5 2253.4,1175.5 2256.4,1168.6 2258.3,1177.0 2253.2,1185.3 2242.0,1187.8" fill="#fff" stroke="none"/>
<polygon points="2228.7,1158.2 2234.3,1156.9 2239.7,1165.4 2236.9,1166.7" fill="#fff" stroke="none"/>
<ellipse cx="2010.7" cy="1302.3" rx="15.7" ry="22.6" transform="rotate(-25 2010.7 1302.3)" fill="#000" stroke="#000" stroke-width="1.5"/>
<ellipse cx="2010.7" cy="1302.3" rx="5.2" ry="10.6" transform="rotate(-25 2010.7 1302.3)" fill="#fff" stroke="none"/>
<path d="M2022.2 1303.2C2022.3 1303.7 2022.5 1305.1 2022.6 1306.0C2022.7 1306.9 2022.7 1307.7 2022.7 1308.6C2022.6 1309.4 2022.5 1310.2 2022.3 1311.0C2022.2 1311.8 2021.9 1312.5 2021.7 1313.2C2021.4 1313.8 2020.8 1314.7 2020.7 1315.0" stroke="#fff" stroke-width="2"/>
<path d="M1999.2 1301.4C1999.1 1300.9 1998.9 1299.5 1998.8 1298.6C1998.7 1297.7 1998.7 1296.9 1998.7 1296.0C1998.8 1295.2 1998.9 1294.4 1999.1 1293.6C1999.2 1292.8 1999.5 1292.1 1999.7 1291.4C2000.0 1290.8 2000.6 1289.9 2000.7 1289.6" stroke="#fff" stroke-width="2"/>
<path d="M2134.6 1441.5L2287.9 1355.9" stroke-width="4"/>
<path d="M2142.0 1454.8L2295.3 1369.1" stroke-width="4"/>
<polygon points="2074.6,1477.6 2075.9,1471.8 2135.3,1438.6 2141.8,1446.2 2144.9,1455.7 2085.5,1488.9 2079.2,1487.9 2075.0,1483.5" fill="#000" stroke="#000" stroke-width="2"/>
<ellipse cx="2080.9" cy="1480.2" rx="2.7" ry="6.1" transform="rotate(-29.2005 2080.9 1480.2)" fill="#fff" stroke="none"/>
<path d="M2082.5 1471.2Q2089.6 1474.8 2091.3 1480.0" stroke="#fff" stroke-width="3.1" stroke-linecap="butt"/>
<path d="M2090.1 1467.0Q2097.2 1470.6 2099.0 1475.8" stroke="#fff" stroke-width="3.1" stroke-linecap="butt"/>
<path d="M2097.7 1462.7Q2104.8 1466.3 2106.6 1471.5" stroke="#fff" stroke-width="3.1" stroke-linecap="butt"/>
<path d="M2105.3 1458.5Q2112.4 1462.1 2114.2 1467.3" stroke="#fff" stroke-width="3.1" stroke-linecap="butt"/>
<path d="M2112.9 1454.2Q2120.0 1457.8 2121.8 1463.0" stroke="#fff" stroke-width="3.1" stroke-linecap="butt"/>
<path d="M2120.6 1450.0Q2127.6 1453.6 2129.4 1458.7" stroke="#fff" stroke-width="3.1" stroke-linecap="butt"/>
<path d="M2128.2 1445.7Q2135.2 1449.3 2137.0 1454.5" stroke="#fff" stroke-width="3.1" stroke-linecap="butt"/>
<path d="M2277.9 1357.5C2277.6 1352.4 2278.7 1347.1 2280.7 1343.7C2282.8 1340.3 2286.0 1339.6 2290.2 1337.2C2294.4 1334.9 2301.5 1330.9 2306.0 1329.7C2310.5 1328.6 2313.5 1328.7 2317.2 1330.3C2320.8 1331.9 2325.0 1335.9 2327.8 1339.3C2330.7 1342.7 2332.9 1347.1 2334.2 1350.9C2335.5 1354.7 2336.1 1358.9 2335.7 1362.1C2335.3 1365.4 2334.3 1367.7 2331.7 1370.3C2329.1 1373.0 2324.0 1375.7 2320.1 1378.1C2316.2 1380.4 2311.9 1383.2 2308.5 1384.4C2305.2 1385.6 2302.6 1385.7 2300.1 1385.3C2297.6 1385.0 2295.3 1382.8 2293.3 1382.2C2291.2 1381.6 2289.5 1383.1 2287.7 1381.9C2285.9 1380.6 2284.1 1378.6 2282.5 1374.6C2280.9 1370.5 2278.2 1362.7 2277.9 1357.5Z" fill="#000" stroke="#000" stroke-width="2"/>
<ellipse cx="2290.7" cy="1363.0" rx="6.1" ry="10.0" transform="rotate(-29.2005 2290.7 1363.0)" fill="#fff" stroke="#000" stroke-width="3.4"/>
<polygon points="2276.6,1364.4 2288.0,1358.1 2293.4,1367.9 2282.1,1374.2" fill="#fff" stroke="none"/>
<polygon points="2285.5,1346.1 2289.8,1344.2 2296.7,1345.3 2303.3,1353.3 2306.9,1363.3 2305.0,1373.0 2301.9,1378.5 2303.7,1370.2 2301.6,1358.8 2295.1,1350.1 2288.1,1349.0" fill="#fff" stroke="none"/>
<polygon points="2299.9,1339.2 2307.1,1334.7 2316.9,1335.2 2324.8,1343.3 2327.2,1350.5 2322.0,1344.6 2313.7,1341.3 2305.3,1342.3" fill="#fff" stroke="none"/>
<polygon points="2316.5,1366.7 2326.5,1363.0 2329.7,1356.2 2331.3,1364.7 2326.0,1372.8 2314.7,1375.0" fill="#fff" stroke="none"/>
<polygon points="2302.3,1344.9 2308.0,1343.8 2313.1,1352.5 2310.3,1353.7" fill="#fff" stroke="none"/>
<ellipse cx="2036.3" cy="1510.8" rx="16.7" ry="23.6" transform="rotate(-25 2036.3 1510.8)" fill="#000" stroke="#000" stroke-width="1.5"/>
<ellipse cx="2036.3" cy="1510.8" rx="5.5" ry="11.1" transform="rotate(-25 2036.3 1510.8)" fill="#fff" stroke="none"/>
<path d="M2048.5 1511.7C2048.5 1512.1 2048.8 1513.6 2048.9 1514.5C2048.9 1515.5 2048.9 1516.4 2048.9 1517.3C2048.8 1518.1 2048.7 1519.0 2048.5 1519.8C2048.3 1520.6 2048.1 1521.4 2047.8 1522.1C2047.5 1522.8 2046.9 1523.7 2046.7 1524.0" stroke="#fff" stroke-width="2"/>
<path d="M2024.1 1509.9C2024.0 1509.4 2023.7 1507.9 2023.7 1507.0C2023.6 1506.1 2023.6 1505.1 2023.6 1504.3C2023.7 1503.4 2023.8 1502.5 2024.0 1501.7C2024.2 1500.9 2024.4 1500.2 2024.7 1499.5C2025.0 1498.8 2025.6 1497.9 2025.8 1497.5" stroke="#fff" stroke-width="2"/>
<path d="M1633.6 1106.9L1673.9 1202.7" stroke-width="3.8"/>
<path d="M1750.5 1035.7L1814.3 1110.9" stroke-width="3.8"/>
<path d="M1560.0 1104.5L1588.5 1089.7" stroke-width="3.8"/>
<path d="M2133.5 1070.1L2160.0 1189.4" stroke-width="3.8"/>
<path d="M1973.9 1183.0L2000.4 1271.4" stroke-width="3.8"/>
<path d="M1982.2 1319.3L1800.6 1423.9" stroke-width="3.8"/>
<path d="M2254.7 1410.1L2325.9 1523.0" stroke-width="3.8"/>
<path d="M2059.8 1532.9L2160.0 1621.2" stroke-width="3.8"/>
<path d="M1545.1 1111.7L1589.7 1088.7" stroke-width="3.8"/>
<!-- p06_part3.py -->
<path d="M1618.6 1466.6L1618.6 1652.5" stroke-width="3.67"/>
<path d="M1618.6 1466.6L1723.0 1406.4" stroke-width="3.67"/>
<path d="M1723.0 1406.4C1724.4 1406.1 1728.5 1404.5 1731.2 1404.8C1734.0 1405.0 1738.1 1407.3 1739.4 1407.8" stroke-width="3.67"/>
<path d="M1739.4 1407.8L1873.4 1474.8" stroke-width="3.67"/>
<path d="M1618.6 1467.9L1653.3 1485.7" stroke-width="3.67"/>
<path d="M1653.3 1485.7C1654.7 1485.5 1658.8 1486.6 1661.5 1484.3C1664.3 1482.0 1668.4 1474.1 1669.7 1472.0" stroke-width="3.67"/>
<path d="M1669.7 1472.0C1672.7 1468.9 1680.9 1458.1 1687.5 1453.4C1694.1 1448.7 1701.2 1445.3 1709.4 1443.9C1717.6 1442.4 1726.7 1442.3 1736.7 1444.7C1746.7 1447.1 1758.6 1451.5 1769.5 1458.4C1780.5 1465.2 1792.8 1475.7 1802.3 1485.7C1811.9 1495.7 1819.6 1506.7 1826.9 1518.5C1834.2 1530.4 1840.6 1544.9 1846.1 1556.8C1851.5 1568.6 1855.9 1580.9 1859.7 1589.6C1863.6 1598.3 1865.4 1602.3 1869.3 1608.7C1873.2 1615.2 1880.7 1625.1 1883.0 1628.4" stroke-width="3.67"/>
<path d="M1701.2 1448.8C1704.4 1446.7 1713.5 1440.1 1720.3 1436.5C1727.1 1432.8 1733.1 1427.8 1742.2 1426.9C1751.3 1426.0 1764.0 1427.1 1775.0 1431.0C1785.9 1434.9 1797.3 1442.4 1807.8 1450.2C1818.3 1457.9 1828.8 1467.5 1837.9 1477.5C1847.0 1487.5 1854.7 1498.0 1862.5 1510.3C1870.2 1522.6 1878.4 1539.5 1884.4 1551.3C1890.3 1563.2 1893.9 1573.2 1898.0 1581.4C1902.1 1589.6 1907.1 1597.3 1909.0 1600.5" stroke-width="3.67"/>
<path d="M1832.4 1466.6C1839.2 1468.8 1862.9 1473.8 1873.4 1480.2C1883.9 1486.6 1889.4 1497.1 1895.3 1504.8C1901.2 1512.6 1905.8 1521.0 1909.0 1526.7C1912.1 1532.4 1913.5 1537.0 1914.4 1539.0" stroke-width="3.67"/>
<path d="M1859.7 1489.0L1869.3 1484.3" stroke-width="3.67"/>
<path d="M1618.6 1652.5L1654.7 1674.4" stroke-width="3.67"/>
<path d="M1654.7 1674.4C1656.3 1677.1 1661.5 1683.5 1664.3 1690.8C1667.0 1698.0 1667.2 1707.2 1671.1 1718.1C1675.0 1729.0 1681.1 1744.1 1687.5 1756.4C1693.9 1768.7 1702.1 1781.9 1709.4 1791.9C1716.7 1801.9 1723.9 1809.7 1731.2 1816.5C1738.5 1823.4 1745.8 1828.8 1753.1 1832.9C1760.4 1837.0 1766.8 1839.1 1775.0 1841.1C1783.2 1843.2 1792.3 1845.2 1802.3 1845.2C1812.4 1845.2 1826.5 1844.1 1835.1 1841.1C1843.8 1838.2 1851.1 1829.7 1854.3 1827.5" stroke-width="3.67"/>
<path d="M1854.3 1827.5L1911.7 1804.2" stroke-width="3.67"/>
<path d="M1857.0 1824.7L1870.7 1797.4L1885.7 1805.6" stroke-width="3.67"/>
<path d="M1885.7 1791.9L1893.9 1797.4L1885.7 1805.6Z" stroke-width="3.67" fill="#000"/>
<path d="M1911.7 1642.9L1911.7 1805.6" stroke-width="3.67"/>
<path d="M1883.0 1628.4L1911.7 1642.9" stroke-width="3.67"/>
<path d="M1911.7 1642.9L2018.3 1581.4" stroke-width="3.67"/>
<path d="M2018.3 1581.4C2019.7 1583.2 2023.8 1586.4 2026.5 1592.3C2029.3 1598.3 2032.5 1606.9 2034.7 1616.9C2037.0 1627.0 2039.7 1641.1 2040.2 1652.5C2040.7 1663.9 2039.3 1674.4 2037.5 1685.3C2035.6 1696.2 2032.5 1709.0 2029.3 1718.1C2026.1 1727.2 2020.1 1736.3 2018.3 1740.0" stroke-width="3.67"/>
<path d="M2018.3 1740.0L1982.8 1764.6L1911.7 1805.6" stroke-width="3.67"/>
<path d="M1911.7 1601.9L1982.8 1566.4" stroke-width="3.67"/>
<path d="M1982.8 1566.4C1986.4 1567.9 1998.7 1573.4 2004.7 1575.9C2010.6 1578.4 2016.0 1580.5 2018.3 1581.4" stroke-width="3.67"/>
<path d="M1896.7 1551.3L1928.1 1533.5" stroke-width="3.67"/>
<path d="M1928.1 1533.5C1930.8 1533.8 1939.5 1532.4 1944.5 1534.9C1949.5 1537.4 1954.5 1543.1 1958.2 1548.6C1961.8 1554.0 1965.0 1564.5 1966.4 1567.7" stroke-width="3.67"/>
<path d="M1896.7 1551.3L1909.0 1597.8" stroke-width="3.67"/>
<path d="M1876.1 1611.5L1906.2 1592.3" stroke-width="3.67"/>
<path d="M1881.6 1606.0L1887.1 1622.4" stroke-width="3.67"/>
<path d="M1887.1 1622.4L1910.3 1612.8" stroke-width="3.67"/>
<path d="M1906.2 1592.3L1914.4 1606.0" stroke-width="3.67"/>
<ellipse cx="1914.4" cy="1603.8" rx="2.7" ry="3.8" transform="rotate(0 1914.4 1603.8)" stroke-width="3.67" fill="#000"/>
<path d="M2040.2 1636.1L2048.4 1633.3L2049.8 1660.7L2041.6 1666.1" stroke-width="3.67"/>
<path d="M2044.3 1636.1L2045.1 1663.4" stroke-width="4.76"/>
<path d="M1641.0 1532.2C1643.1 1525.6 1645.1 1526.0 1649.2 1525.3C1653.3 1524.7 1659.2 1525.8 1665.6 1528.1C1672.0 1530.4 1681.6 1537.2 1687.5 1539.0C1693.4 1540.8 1698.2 1541.5 1701.2 1539.0C1704.1 1536.5 1703.0 1529.2 1705.3 1524.0C1707.5 1518.7 1710.0 1511.4 1714.8 1507.6C1719.6 1503.7 1726.7 1501.2 1734.0 1500.7C1741.3 1500.3 1749.9 1501.0 1758.6 1504.8C1767.2 1508.7 1777.7 1516.2 1785.9 1524.0C1794.1 1531.7 1801.4 1541.7 1807.8 1551.3C1814.2 1560.9 1820.1 1571.8 1824.2 1581.4C1828.3 1591.0 1829.7 1601.4 1832.4 1608.7C1835.1 1616.0 1835.6 1620.1 1840.6 1625.1C1845.6 1630.1 1855.6 1633.8 1862.5 1638.8C1869.3 1643.8 1877.1 1648.4 1881.6 1655.2C1886.2 1662.0 1887.8 1670.3 1889.8 1679.8C1891.9 1689.4 1893.9 1701.7 1893.9 1712.6C1893.9 1723.6 1892.3 1737.5 1889.8 1745.4C1887.3 1753.4 1883.9 1758.7 1878.9 1760.5C1873.9 1762.3 1866.1 1758.4 1859.7 1756.4C1853.4 1754.3 1845.4 1748.6 1840.6 1748.2C1835.8 1747.7 1833.8 1750.0 1831.0 1753.6C1828.3 1757.3 1828.1 1765.0 1824.2 1770.0C1820.3 1775.1 1814.2 1781.4 1807.8 1783.7C1801.4 1786.0 1793.7 1786.0 1785.9 1783.7C1778.2 1781.4 1769.5 1776.4 1761.3 1770.0C1753.1 1763.7 1744.0 1754.6 1736.7 1745.4C1729.4 1736.3 1722.6 1724.9 1717.6 1715.4C1712.6 1705.8 1709.4 1695.8 1706.6 1688.0C1703.9 1680.3 1704.4 1673.9 1701.2 1668.9C1698.0 1663.9 1693.4 1662.0 1687.5 1657.9C1681.6 1653.8 1672.0 1649.7 1665.6 1644.3C1659.2 1638.8 1653.5 1632.9 1649.2 1625.1C1644.9 1617.4 1641.7 1607.8 1639.6 1597.8C1637.6 1587.8 1636.7 1575.9 1636.9 1565.0C1637.1 1554.0 1639.0 1538.8 1641.0 1532.2Z" stroke-width="3.67"/>
<path d="M1654.7 1554.0C1655.6 1548.1 1657.4 1546.8 1660.2 1545.8C1662.9 1544.9 1662.9 1544.5 1671.1 1548.6C1679.3 1552.7 1701.6 1564.1 1709.4 1570.5C1717.1 1576.8 1715.3 1580.9 1717.6 1586.9C1719.8 1592.8 1720.5 1600.5 1723.0 1606.0C1725.5 1611.5 1731.5 1615.1 1732.6 1619.7C1733.7 1624.2 1731.9 1629.7 1729.9 1633.3C1727.8 1637.0 1722.8 1638.1 1720.3 1641.5C1717.8 1645.0 1717.6 1652.0 1714.8 1653.8C1712.1 1655.7 1709.8 1655.0 1703.9 1652.5C1698.0 1650.0 1686.1 1642.9 1679.3 1638.8C1672.5 1634.7 1666.5 1632.9 1662.9 1627.9C1659.2 1622.9 1658.8 1616.5 1657.4 1608.7C1656.1 1601.0 1655.1 1590.5 1654.7 1581.4C1654.2 1572.3 1653.8 1560.0 1654.7 1554.0Z" stroke-width="3.67"/>
<path d="M1672.5 1618.3L1713.5 1596.4" stroke-width="3.67"/>
<ellipse cx="1767.3" cy="1588.2" rx="32.3" ry="47.0" transform="rotate(-20 1767.3 1588.2)" stroke-width="3.67"/>
<ellipse cx="1767.9" cy="1588.2" rx="27.3" ry="41.0" transform="rotate(-20 1767.9 1588.2)" stroke-width="2.72"/>
<ellipse cx="1769.0" cy="1588.8" rx="22.4" ry="35.0" transform="rotate(-20 1769.0 1588.8)" stroke-width="4.08"/>
<ellipse cx="1767.3" cy="1699.0" rx="32.3" ry="47.0" transform="rotate(-20 1767.3 1699.0)" stroke-width="3.67"/>
<ellipse cx="1767.9" cy="1699.0" rx="27.3" ry="41.0" transform="rotate(-20 1767.9 1699.0)" stroke-width="2.72"/>
<ellipse cx="1769.0" cy="1699.5" rx="22.4" ry="35.0" transform="rotate(-20 1769.0 1699.5)" stroke-width="4.08"/>
<path d="M1807.8 1660.7C1808.3 1654.3 1815.1 1649.7 1818.7 1647.0C1822.4 1644.3 1826.5 1642.5 1829.7 1644.3C1832.9 1646.1 1835.6 1651.1 1837.9 1657.9C1840.1 1664.8 1842.7 1677.1 1843.3 1685.3C1844.0 1693.5 1843.3 1702.4 1842.0 1707.2C1840.6 1711.9 1838.1 1714.5 1835.1 1714.0C1832.2 1713.5 1827.4 1709.2 1824.2 1704.4C1821.0 1699.6 1818.7 1692.6 1816.0 1685.3C1813.3 1678.0 1807.3 1667.1 1807.8 1660.7Z" stroke-width="3.67"/>
<path d="M1859.7 1671.6C1860.2 1665.2 1862.9 1666.6 1865.2 1666.1C1867.5 1665.7 1870.9 1665.7 1873.4 1668.9C1875.9 1672.1 1878.7 1678.0 1880.3 1685.3C1881.8 1692.6 1883.2 1703.5 1883.0 1712.6C1882.8 1721.7 1880.9 1734.3 1878.9 1740.0C1876.8 1745.7 1873.6 1746.8 1870.7 1746.8C1867.7 1746.8 1863.2 1743.4 1861.1 1740.0C1859.1 1736.6 1858.1 1732.2 1858.4 1726.3C1858.6 1720.4 1862.3 1713.5 1862.5 1704.4C1862.7 1695.3 1859.3 1678.0 1859.7 1671.6Z" stroke-width="3.67"/>
<ellipse cx="1722.5" cy="1472.0" rx="7.7" ry="12.6" transform="rotate(-20 1722.5 1472.0)" stroke-width="3.67"/>
<ellipse cx="1683.4" cy="1514.4" rx="7.7" ry="12.6" transform="rotate(-20 1683.4 1514.4)" stroke-width="3.67"/>
<ellipse cx="1768.2" cy="1483.0" rx="11.5" ry="17.0" transform="rotate(-20 1768.2 1483.0)" stroke-width="3.67"/>
<ellipse cx="1810.0" cy="1521.2" rx="7.7" ry="12.6" transform="rotate(-20 1810.0 1521.2)" stroke-width="3.67"/>
<ellipse cx="1852.9" cy="1611.5" rx="7.7" ry="12.6" transform="rotate(-20 1852.9 1611.5)" stroke-width="3.67"/>
<ellipse cx="1684.8" cy="1674.4" rx="8.2" ry="12.6" transform="rotate(-20 1684.8 1674.4)" stroke-width="3.67"/>
<ellipse cx="1725.8" cy="1764.6" rx="7.7" ry="12.6" transform="rotate(-20 1725.8 1764.6)" stroke-width="3.67"/>
<ellipse cx="1770.9" cy="1802.9" rx="11.5" ry="15.9" transform="rotate(-20 1770.9 1802.9)" stroke-width="3.67"/>
<ellipse cx="1816.0" cy="1815.2" rx="8.2" ry="12.6" transform="rotate(-20 1816.0 1815.2)" stroke-width="3.67"/>
<ellipse cx="1854.3" cy="1772.8" rx="8.2" ry="12.6" transform="rotate(-20 1854.3 1772.8)" stroke-width="3.67"/>
<ellipse cx="1977.3" cy="1690.8" rx="22.4" ry="33.4" transform="rotate(25 1977.3 1690.8)" stroke-width="3.67"/>
<ellipse cx="2001.9" cy="1614.2" rx="6.6" ry="10.9" transform="rotate(30 2001.9 1614.2)" stroke-width="3.67"/>
<ellipse cx="1951.3" cy="1642.9" rx="6.6" ry="10.9" transform="rotate(30 1951.3 1642.9)" stroke-width="3.67"/>
<ellipse cx="2004.7" cy="1730.4" rx="6.6" ry="10.9" transform="rotate(30 2004.7 1730.4)" stroke-width="3.67"/>
<ellipse cx="1951.3" cy="1760.5" rx="6.6" ry="10.9" transform="rotate(30 1951.3 1760.5)" stroke-width="3.67"/>
<ellipse cx="1651.9" cy="1876.7" rx="11.5" ry="17.0" transform="rotate(-25 1651.9 1876.7)" stroke-width="3.67"/>
<path d="M1641.0 1860.8L1701.2 1828.8" stroke-width="3.67"/>
<path d="M1701.2 1828.8C1703.0 1829.1 1708.9 1827.7 1712.1 1830.2C1715.3 1832.7 1718.9 1839.8 1720.3 1843.9C1721.7 1848.0 1720.3 1853.0 1720.3 1854.8" stroke-width="3.67"/>
<path d="M1720.3 1854.8L1661.5 1892.5" stroke-width="3.67"/>
<path d="M1641.0 1860.8C1640.2 1862.6 1636.1 1866.7 1636.1 1871.2C1636.1 1875.7 1638.6 1883.7 1641.0 1887.6C1643.4 1891.5 1647.2 1893.6 1650.6 1894.5C1654.0 1895.3 1659.7 1892.9 1661.5 1892.5" stroke-width="3.67"/>
<path d="M1985.5 1775.5L2082.6 1898.8" stroke-width="3.8"/>
<path d="M1801.0 1424.2L1859.7 1390.0" stroke-width="3.8"/>
<!-- p07_lower876.py -->
<path d="M1338.7 1709.8C1342.2 1704.1 1349.9 1703.7 1355.5 1703.7C1361.0 1703.7 1367.1 1707.3 1372.2 1709.8C1377.3 1712.3 1382.0 1718.2 1386.2 1718.7C1390.4 1719.3 1394.3 1717.0 1397.3 1713.2C1400.4 1709.3 1400.6 1700.6 1404.3 1695.8C1408.1 1691.1 1413.4 1687.1 1419.7 1684.7C1426.0 1682.3 1434.1 1680.2 1442.0 1681.3C1449.9 1682.5 1458.8 1686.0 1467.2 1691.7C1475.5 1697.3 1484.8 1706.3 1492.3 1715.4C1499.7 1724.5 1506.5 1735.9 1511.8 1746.1C1517.2 1756.3 1521.1 1768.0 1524.4 1776.8C1527.7 1785.7 1527.4 1792.9 1531.4 1799.2C1535.3 1805.4 1541.6 1808.5 1548.1 1814.5C1554.6 1820.6 1564.4 1827.3 1570.5 1835.5C1576.5 1843.6 1580.9 1853.6 1584.4 1863.4C1587.9 1873.2 1590.7 1883.4 1591.4 1894.1C1592.1 1904.8 1590.3 1918.8 1588.6 1927.6C1587.0 1936.5 1585.1 1943.0 1581.6 1947.2C1578.2 1951.3 1572.8 1953.2 1567.7 1952.7C1562.6 1952.3 1556.5 1946.9 1550.9 1944.4C1545.3 1941.8 1538.6 1936.9 1534.2 1937.4C1529.7 1937.8 1528.1 1942.5 1524.4 1947.2C1520.7 1951.8 1517.2 1960.9 1511.8 1965.3C1506.5 1969.7 1499.7 1973.2 1492.3 1973.7C1484.8 1974.1 1475.5 1972.1 1467.2 1968.1C1458.8 1964.1 1449.9 1957.6 1442.0 1949.9C1434.1 1942.3 1426.2 1932.3 1419.7 1922.0C1413.2 1911.8 1407.6 1899.7 1402.9 1888.5C1398.3 1877.3 1395.5 1863.4 1391.8 1855.0C1388.0 1846.6 1386.2 1842.9 1380.6 1838.3C1375.0 1833.6 1364.5 1832.7 1358.3 1827.1C1352.0 1821.5 1346.6 1814.1 1342.9 1804.7C1339.2 1795.4 1337.3 1782.4 1335.9 1771.2C1334.5 1760.1 1334.1 1748.0 1334.5 1737.7C1335.0 1727.5 1335.2 1715.5 1338.7 1709.8Z" stroke-width="5.70"/>
<path d="M1198.3 1852.0C1198.3 1850.3 1200.9 1849.3 1203.6 1847.4C1206.2 1845.5 1210.7 1841.3 1214.0 1840.4C1217.3 1839.6 1219.8 1841.9 1223.3 1842.2C1226.7 1842.5 1231.0 1841.7 1234.9 1842.2C1238.7 1842.7 1242.4 1843.4 1246.5 1845.1C1250.5 1846.7 1255.2 1849.1 1259.2 1852.0C1263.3 1854.9 1267.0 1858.4 1270.8 1862.5C1274.7 1866.5 1279.1 1871.7 1282.4 1876.4C1285.7 1881.0 1288.2 1885.3 1290.5 1890.3C1292.9 1895.3 1295.0 1901.3 1296.3 1906.5C1297.7 1911.8 1298.6 1917.0 1298.6 1921.6C1298.7 1926.3 1298.3 1930.5 1296.9 1934.4C1295.6 1938.2 1293.1 1941.7 1290.5 1944.8C1287.9 1947.9 1284.5 1950.8 1281.3 1952.9C1278.0 1955.1 1273.7 1956.5 1270.8 1957.6C1267.9 1958.6 1263.5 1957.6 1263.9 1959.3C1264.2 1961.0 1269.8 1964.4 1273.1 1968.0C1276.4 1971.6 1280.5 1976.3 1283.6 1980.8C1286.7 1985.2 1289.4 1989.6 1291.7 1994.7C1294.0 1999.7 1295.9 2005.5 1297.5 2010.9C1299.0 2016.3 1300.4 2021.9 1301.0 2027.1C1301.5 2032.4 1301.7 2037.8 1301.0 2042.2C1300.2 2046.7 1298.6 2050.3 1296.3 2053.8C1294.0 2057.3 1290.7 2060.6 1287.1 2063.1C1283.4 2065.6 1278.5 2067.9 1274.3 2068.9C1270.0 2069.9 1265.6 2069.7 1261.5 2068.9C1257.5 2068.1 1254.0 2066.4 1249.9 2064.3C1245.9 2062.1 1241.1 2059.2 1237.2 2056.1C1233.3 2053.0 1229.8 2049.0 1226.7 2045.7C1223.7 2042.4 1221.0 2039.5 1218.6 2036.4C1216.3 2033.3 1214.6 2028.9 1212.8 2027.1C1211.1 2025.4 1210.3 2026.2 1208.2 2026.0C1206.1 2025.8 1202.0 2026.8 1200.1 2026.0C1198.1 2025.2 1197.1 2023.3 1196.6 2021.3C1196.1 2019.4 1196.2 2016.4 1197.2 2014.4C1198.1 2012.4 1200.0 2010.3 1202.4 2009.2C1204.8 2008.0 1208.8 2007.3 1211.7 2007.4C1214.6 2007.5 1217.3 2008.2 1219.8 2009.8C1222.3 2011.3 1224.0 2013.8 1226.7 2016.7C1229.5 2019.6 1232.5 2023.7 1236.0 2027.1C1239.5 2030.6 1243.8 2034.9 1247.6 2037.6C1251.5 2040.3 1255.7 2042.6 1259.2 2043.4C1262.7 2044.2 1266.0 2043.4 1268.5 2042.2C1271.0 2041.1 1273.1 2038.9 1274.3 2036.4C1275.5 2033.9 1275.6 2030.8 1275.5 2027.1C1275.3 2023.5 1274.5 2018.8 1273.1 2014.4C1271.8 2009.9 1269.8 2004.9 1267.3 2000.5C1264.8 1996.0 1261.3 1991.6 1258.1 1987.7C1254.8 1983.9 1251.1 1980.4 1247.6 1977.3C1244.1 1974.2 1240.7 1971.9 1237.2 1969.2C1233.7 1966.5 1229.5 1963.7 1226.7 1961.0C1224.0 1958.3 1222.5 1955.8 1221.0 1952.9C1219.4 1950.0 1218.0 1946.5 1217.5 1943.6C1217.0 1940.7 1217.1 1937.9 1218.1 1935.5C1219.0 1933.2 1221.0 1931.3 1223.3 1929.7C1225.5 1928.2 1228.3 1926.7 1231.4 1926.3C1234.5 1925.8 1238.9 1925.9 1241.8 1926.8C1244.7 1927.8 1246.1 1930.6 1248.8 1932.1C1251.5 1933.5 1255.0 1935.1 1258.1 1935.5C1261.2 1935.9 1265.0 1935.5 1267.3 1934.4C1269.7 1933.2 1271.0 1931.5 1272.0 1928.6C1272.9 1925.7 1273.3 1921.0 1273.1 1917.0C1272.9 1912.9 1272.0 1908.3 1270.8 1904.2C1269.7 1900.2 1267.9 1896.3 1266.2 1892.6C1264.4 1889.0 1262.7 1885.7 1260.4 1882.2C1258.1 1878.7 1255.2 1874.6 1252.3 1871.7C1249.4 1868.8 1246.3 1866.5 1243.0 1864.8C1239.7 1863.1 1236.0 1861.8 1232.5 1861.3C1229.1 1860.8 1224.4 1861.3 1222.1 1861.9C1219.8 1862.5 1220.4 1864.4 1218.6 1864.8C1216.9 1865.2 1214.2 1865.4 1211.7 1864.2C1209.2 1863.1 1205.8 1859.9 1203.6 1857.8C1201.3 1855.8 1198.3 1853.8 1198.3 1852.0Z" stroke-width="0.92" fill="#000"/>
<path d="M1206.1 1853.0C1207.2 1853.9 1210.2 1857.6 1212.8 1858.4C1215.5 1859.2 1218.6 1857.9 1222.1 1857.8C1225.6 1857.7 1229.8 1857.2 1233.7 1857.8C1237.6 1858.5 1241.6 1859.8 1245.3 1861.9C1249.0 1864.0 1252.5 1867.2 1255.7 1870.6C1259.0 1874.0 1262.1 1877.7 1265.0 1882.2C1267.9 1886.6 1270.8 1892.0 1273.1 1897.3C1275.5 1902.5 1277.4 1908.1 1278.9 1913.5C1280.5 1918.9 1282.4 1925.1 1282.4 1929.7C1282.4 1934.4 1280.9 1938.2 1278.9 1941.3C1277.0 1944.4 1273.9 1946.7 1270.8 1948.3C1267.7 1949.8 1263.9 1951.0 1260.4 1950.6C1256.9 1950.2 1253.4 1947.9 1249.9 1946.0C1246.5 1944.0 1242.6 1940.6 1239.5 1939.0C1236.4 1937.5 1233.7 1937.0 1231.4 1936.7C1229.1 1936.4 1226.7 1935.9 1225.6 1937.3C1224.4 1938.6 1224.0 1942.2 1224.4 1944.8C1224.8 1947.4 1225.8 1950.4 1227.9 1952.9C1230.0 1955.4 1233.9 1957.4 1237.2 1959.9C1240.5 1962.4 1244.0 1964.7 1247.6 1968.0C1251.3 1971.3 1255.5 1975.5 1259.2 1979.6C1262.9 1983.7 1266.6 1987.7 1269.7 1992.4C1272.7 1997.0 1275.5 2002.0 1277.8 2007.4C1280.1 2012.8 1282.4 2019.6 1283.6 2024.8C1284.7 2030.0 1285.3 2034.5 1284.7 2038.7C1284.2 2043.0 1282.4 2047.2 1280.1 2050.3C1277.8 2053.4 1274.1 2056.1 1270.8 2057.3C1267.5 2058.5 1263.9 2058.3 1260.4 2057.3C1256.9 2056.3 1253.4 2053.8 1249.9 2051.5C1246.5 2049.2 1243.0 2046.5 1239.5 2043.4C1236.0 2040.3 1232.4 2036.4 1229.1 2032.9C1225.8 2029.5 1222.5 2025.0 1219.8 2022.5C1217.1 2020.0 1215.4 2018.7 1212.8 2017.9C1210.2 2017.0 1205.6 2017.4 1204.1 2017.3" stroke="#fff" stroke-width="5"/>
<path d="M1023.4 1980.2C1022.3 1975.7 1021.2 1966.8 1021.7 1960.1C1022.3 1953.4 1024.0 1946.2 1026.7 1940.1C1029.5 1934.0 1033.7 1927.9 1038.4 1923.4C1043.2 1918.9 1049.3 1915.3 1055.1 1913.4C1061.0 1911.4 1067.6 1911.2 1073.5 1911.7C1079.3 1912.3 1085.2 1914.5 1090.2 1916.7C1095.2 1918.9 1100.5 1922.0 1103.5 1925.1C1106.6 1928.1 1106.0 1932.6 1108.5 1935.1C1111.0 1937.6 1114.9 1936.8 1118.5 1940.1C1122.2 1943.4 1126.3 1949.3 1130.2 1955.1C1134.1 1961.0 1138.6 1968.2 1141.9 1975.1C1145.3 1982.1 1148.0 1989.9 1150.3 1996.8C1152.5 2003.8 1155.0 2011.3 1155.3 2016.9C1155.5 2022.4 1154.4 2026.6 1151.9 2030.2C1149.4 2033.8 1143.9 2035.8 1140.2 2038.6C1136.6 2041.4 1132.2 2042.7 1130.2 2046.9C1128.3 2051.1 1128.0 2058.0 1128.6 2063.6C1129.1 2069.2 1131.1 2074.5 1133.6 2080.3C1136.1 2086.1 1140.5 2092.5 1143.6 2098.7C1146.6 2104.8 1150.3 2111.2 1151.9 2117.0C1153.6 2122.9 1154.4 2127.6 1153.6 2133.7C1152.8 2139.8 1150.3 2148.7 1146.9 2153.7C1143.6 2158.8 1138.6 2160.4 1133.6 2163.8C1128.6 2167.1 1121.9 2171.8 1116.9 2173.8C1111.9 2175.7 1107.1 2176.3 1103.5 2175.4C1099.9 2174.6 1098.0 2169.3 1095.2 2168.8C1092.4 2168.2 1090.4 2172.9 1086.8 2172.1C1083.2 2171.3 1078.5 2167.9 1073.5 2163.8C1068.5 2159.6 1062.1 2153.2 1056.8 2147.1C1051.5 2141.0 1046.2 2134.3 1041.8 2127.0C1037.3 2119.8 1033.1 2111.5 1030.1 2103.7C1027.0 2095.9 1024.8 2087.0 1023.4 2080.3C1022.0 2073.6 1021.9 2068.6 1021.7 2063.6C1021.6 2058.6 1021.2 2053.9 1022.6 2050.3C1024.0 2046.6 1026.9 2044.7 1030.1 2041.9C1033.3 2039.1 1039.1 2036.9 1041.8 2033.6C1044.4 2030.2 1045.7 2026.3 1045.9 2021.9C1046.2 2017.4 1045.2 2011.3 1043.4 2006.9C1041.6 2002.4 1037.6 1998.5 1035.1 1995.2C1032.6 1991.8 1030.4 1989.3 1028.4 1986.8C1026.5 1984.3 1024.5 1984.6 1023.4 1980.2Z" stroke-width="4.97" fill="#fff"/>
<path d="M1030.1 1981.8C1032.3 1982.9 1039.8 1985.4 1043.4 1988.5C1047.0 1991.6 1049.3 1996.6 1051.8 2000.2C1054.3 2003.8 1055.9 2006.9 1058.5 2010.2C1061.0 2013.5 1064.4 2017.4 1066.8 2020.2C1069.2 2023.0 1071.7 2025.8 1072.6 2026.9" stroke-width="4.97"/>
<path d="M1072.6 2026.9L1074.3 2052.8" stroke-width="6.44"/>
<path d="M1074.3 2052.8C1071.9 2052.1 1064.2 2048.4 1060.1 2048.6C1056.1 2048.7 1054.0 2052.5 1050.1 2053.6C1046.2 2054.7 1040.6 2055.5 1036.8 2055.3C1032.9 2055.0 1028.4 2052.5 1026.7 2051.9" stroke-width="8.28"/>
<path d="M1036.8 1991.8C1038.1 1993.8 1043.2 1999.1 1045.1 2003.5C1047.0 2008.0 1048.2 2014.1 1048.4 2018.5C1048.7 2023.0 1048.7 2026.6 1046.8 2030.2C1044.8 2033.8 1039.8 2037.2 1036.8 2040.2C1033.7 2043.3 1029.8 2047.2 1028.4 2048.6" stroke-width="4.97"/>
<path d="M1093.5 2038.6L1105.2 2035.2L1106.0 2063.6L1111.9 2075.3L1121.9 2097.0L1135.2 2113.7L1145.3 2123.7L1143.6 2132.0L1130.2 2127.0L1118.5 2117.0L1108.5 2093.7L1100.2 2078.6L1093.5 2072.0Z" stroke-width="4.97" fill="#000"/>
<path d="M1093.5 2038.6C1095.7 2038.0 1102.7 2037.2 1106.9 2035.2C1111.0 2033.3 1114.6 2028.8 1118.5 2026.9C1122.4 2024.9 1126.9 2023.8 1130.2 2023.6C1133.6 2023.3 1137.2 2024.9 1138.6 2025.2" stroke-width="4.97"/>
<path d="M1106.9 2040.2C1108.0 2039.7 1110.8 2038.6 1113.5 2036.9C1116.3 2035.2 1119.7 2031.3 1123.6 2030.2C1127.4 2029.1 1134.7 2030.2 1136.9 2030.2" stroke-width="3.68"/>
<path d="M1110.2 1946.8C1112.1 1950.1 1118.0 1959.0 1121.9 1966.8C1125.8 1974.6 1130.5 1985.7 1133.6 1993.5C1136.6 2001.3 1138.3 2008.2 1140.2 2013.5C1142.2 2018.8 1144.4 2023.3 1145.3 2025.2" stroke-width="4.97"/>
<path d="M1115.2 1943.4C1117.4 1946.8 1124.7 1956.2 1128.6 1963.5C1132.5 1970.7 1135.8 1979.0 1138.6 1986.8C1141.4 1994.6 1143.7 2004.1 1145.3 2010.2C1146.8 2016.3 1147.3 2021.3 1147.8 2023.6" stroke-width="3.68"/>
<path d="M1140.2 2038.6C1138.0 2039.1 1130.5 2040.0 1126.9 2041.9C1123.3 2043.9 1120.5 2046.6 1118.5 2050.3C1116.6 2053.9 1115.2 2058.6 1115.2 2063.6C1115.2 2068.6 1116.6 2075.0 1118.5 2080.3C1120.5 2085.6 1123.8 2090.6 1126.9 2095.3C1129.9 2100.1 1134.0 2104.2 1136.9 2108.7C1139.8 2113.1 1143.0 2118.4 1144.4 2122.0C1145.8 2125.6 1145.1 2129.0 1145.3 2130.4" stroke-width="4.97"/>
<path d="M1125.2 2048.6C1124.9 2051.1 1123.0 2057.8 1123.6 2063.6C1124.1 2069.5 1126.1 2077.5 1128.6 2083.6C1131.1 2089.8 1135.5 2095.3 1138.6 2100.3C1141.6 2105.3 1145.5 2111.5 1146.9 2113.7" stroke-width="3.68"/>
<path d="M1145.3 2130.4C1144.4 2133.2 1141.6 2142.6 1140.2 2147.1C1138.9 2151.5 1137.5 2155.4 1136.9 2157.1" stroke-width="4.97"/>
<path d="M1136.9 2130.4C1136.6 2133.2 1136.3 2141.8 1135.2 2147.1C1134.1 2152.4 1131.1 2159.6 1130.2 2162.1" stroke-width="4.97"/>
<path d="M1093.5 1936.8C1094.2 1935.1 1098.0 1932.3 1100.2 1932.6C1102.4 1932.9 1106.6 1936.6 1106.9 1938.4C1107.1 1940.2 1103.7 1942.7 1101.9 1943.4C1100.0 1944.1 1097.4 1943.7 1096.0 1942.6C1094.6 1941.5 1092.8 1938.4 1093.5 1936.8Z" stroke-width="4.97"/>
<path d="M1066.8 1917.6C1069.0 1918.3 1075.4 1919.6 1080.2 1921.7C1084.9 1923.8 1092.7 1928.7 1095.2 1930.1" stroke-width="4.97"/>
<path d="M1046.8 1921.7C1048.4 1921.2 1053.4 1919.3 1056.8 1918.7C1060.1 1918.1 1065.1 1918.2 1066.8 1918.1" stroke-width="7.36"/>
<path d="M1051.8 1973.5C1052.2 1968.2 1053.7 1963.0 1056.8 1960.1C1059.8 1957.2 1065.7 1955.4 1070.1 1955.9C1074.6 1956.5 1079.0 1959.4 1083.5 1963.5C1087.9 1967.5 1093.2 1974.6 1096.8 1980.2C1100.5 1985.7 1103.2 1991.3 1105.2 1996.8C1107.1 2002.4 1108.8 2008.8 1108.5 2013.5C1108.2 2018.3 1106.3 2022.6 1103.5 2025.2C1100.7 2027.9 1096.3 2029.7 1091.8 2029.4C1087.4 2029.1 1081.5 2026.8 1076.8 2023.6C1072.1 2020.4 1067.2 2015.5 1063.5 2010.2C1059.7 2004.9 1056.2 1998.0 1054.3 1991.8C1052.3 1985.7 1051.4 1978.8 1051.8 1973.5Z" stroke-width="4.97"/>
<path d="M1069.3 1963.5C1069.6 1966.2 1069.2 1974.6 1071.0 1980.2C1072.8 1985.7 1076.4 1991.8 1080.2 1996.8C1083.9 2001.9 1089.6 2007.4 1093.5 2010.2C1097.4 2013.0 1101.9 2013.0 1103.5 2013.5" stroke-width="6.44"/>
<path d="M1053.4 2080.3C1053.4 2075.0 1054.0 2071.3 1056.8 2068.6C1059.6 2066.0 1065.7 2064.2 1070.1 2064.4C1074.6 2064.7 1079.0 2066.8 1083.5 2070.3C1087.9 2073.8 1093.2 2080.0 1096.8 2085.3C1100.5 2090.6 1103.1 2096.4 1105.2 2102.0C1107.3 2107.6 1109.4 2114.0 1109.4 2118.7C1109.4 2123.4 1107.8 2127.6 1105.2 2130.4C1102.5 2133.2 1097.7 2135.1 1093.5 2135.4C1089.3 2135.7 1084.6 2134.8 1080.2 2132.0C1075.7 2129.3 1070.7 2124.0 1066.8 2118.7C1062.9 2113.4 1059.0 2106.7 1056.8 2100.3C1054.6 2093.9 1053.4 2085.6 1053.4 2080.3Z" stroke-width="4.97"/>
<path d="M1069.3 2073.6C1069.6 2076.4 1069.2 2084.8 1071.0 2090.3C1072.8 2095.9 1077.0 2102.3 1080.2 2107.0C1083.4 2111.7 1086.8 2116.1 1090.2 2118.7C1093.5 2121.3 1098.5 2122.2 1100.2 2122.9" stroke-width="6.44"/>
<path d="M1305.0 2046.0L1477.5 2260.0" stroke-width="3.8"/>
<path d="M1155.3 2155.0L1293.2 2370.7" stroke-width="3.8"/>
<path d="M1546.8 1962.5L1637.5 2167.8" stroke-width="3.8"/>
<path d="M1708.4 1884.8L1868.0 2027.2" stroke-width="3.8"/>
<!-- p08_case2.py -->
<path d="M621.3 2050.6C617.4 2052.2 605.3 2054.3 597.9 2059.7C590.6 2065.2 583.2 2073.6 577.1 2083.1C571.1 2092.6 565.7 2104.8 561.6 2116.9C557.4 2129.0 554.4 2142.9 552.5 2155.8C550.5 2168.8 549.7 2181.8 549.9 2194.8C550.1 2207.8 551.6 2222.5 553.8 2233.8C555.9 2245.0 560.3 2253.7 562.9 2262.3C565.5 2271.0 567.2 2276.6 569.4 2285.7C571.5 2294.8 572.8 2306.5 575.8 2316.9C578.9 2327.3 583.6 2339.2 587.5 2348.1C591.4 2356.9 597.3 2366.5 599.2 2370.1" stroke-width="3.56"/>
<path d="M610.9 2389.6C613.9 2393.5 621.7 2404.3 629.1 2413.0C636.5 2421.6 646.4 2433.3 655.1 2441.6C663.7 2449.8 675.4 2456.7 681.0 2462.3C686.7 2468.0 685.4 2471.0 688.8 2475.3C692.3 2479.7 697.9 2485.3 701.8 2488.3C705.7 2491.3 708.7 2493.5 712.2 2493.5C715.7 2493.5 717.8 2489.0 722.6 2488.3C727.4 2487.7 733.4 2489.2 740.8 2489.6C748.1 2490.0 758.5 2491.6 766.8 2490.9C775.0 2490.3 783.2 2488.3 790.1 2485.7C797.1 2483.1 803.1 2478.8 808.3 2475.3C813.5 2471.9 819.1 2466.7 821.3 2464.9" stroke-width="3.56"/>
<path d="M621.3 2050.6C624.3 2049.9 632.1 2046.4 639.5 2046.2C646.8 2046.1 657.7 2048.7 665.5 2049.9C673.2 2051.0 682.8 2052.7 686.2 2053.2" stroke-width="3.56"/>
<path d="M686.2 2053.2L713.5 2064.4" stroke-width="3.56"/>
<path d="M713.5 2064.4C715.9 2066.7 721.9 2071.3 727.8 2077.9C733.6 2084.5 741.6 2094.4 748.6 2103.9C755.5 2113.4 762.4 2123.8 769.4 2135.1C776.3 2146.3 783.6 2159.7 790.1 2171.4C796.6 2183.1 803.1 2196.5 808.3 2205.2C813.5 2213.9 819.1 2220.3 821.3 2223.4" stroke-width="3.56"/>
<path d="M623.9 2048.1L701.8 2001.3" stroke-width="3.56"/>
<path d="M686.2 2051.9L777.1 2002.6" stroke-width="3.56"/>
<path d="M713.5 2063.6L795.3 2018.2" stroke-width="3.56"/>
<path d="M725.2 2069.6L797.9 2029.1" stroke-width="3.56"/>
<path d="M701.8 2001.3C706.1 2000.2 717.8 1995.0 727.8 1994.8C737.7 1994.6 752.9 1998.3 761.6 2000.0C770.2 2001.7 773.2 2002.6 779.7 2005.2C786.2 2007.8 794.0 2010.4 800.5 2015.6C807.0 2020.8 811.3 2027.3 818.7 2036.4C826.1 2045.5 836.5 2058.9 844.7 2070.1C852.9 2081.4 860.7 2092.2 868.1 2103.9C875.4 2115.6 882.8 2129.0 888.8 2140.3C894.9 2151.5 901.8 2166.2 904.4 2171.4" stroke-width="3.56"/>
<path d="M821.3 2222.9L907.0 2174.5" stroke-width="3.56"/>
<path d="M830.4 2229.1L917.4 2182.3" stroke-width="3.56"/>
<path d="M907.0 2174.5C908.7 2175.0 914.8 2175.8 917.4 2177.1C920.0 2178.4 921.7 2181.5 922.6 2182.3" stroke-width="3.56"/>
<path d="M922.6 2182.3L922.6 2228.6" stroke-width="3.56"/>
<path d="M922.6 2228.6C923.9 2233.8 928.7 2248.1 930.4 2259.7C932.1 2271.4 933.4 2285.7 933.0 2298.7C932.6 2311.7 930.0 2326.8 927.8 2337.7C925.6 2348.5 921.3 2359.3 920.0 2363.6" stroke-width="3.56"/>
<path d="M920.0 2363.6L922.6 2413.0" stroke-width="3.56"/>
<path d="M922.6 2413.0L834.3 2459.7L805.7 2475.3" stroke-width="3.56"/>
<path d="M821.3 2223.4L831.7 2229.9" stroke-width="3.56"/>
<path d="M831.7 2229.9C831.7 2234.8 830.4 2248.3 831.7 2259.7C833.0 2271.2 837.3 2285.7 839.5 2298.7C841.6 2311.7 844.2 2324.7 844.7 2337.7C845.1 2350.6 843.6 2365.4 842.1 2376.6C840.6 2387.9 837.1 2398.7 835.6 2405.2C834.1 2411.7 833.4 2413.9 833.0 2415.6" stroke-width="3.56"/>
<path d="M833.0 2415.6L833.0 2459.7" stroke-width="4.62"/>
<path d="M840.8 2280.5L916.1 2237.7" stroke-width="3.56"/>
<path d="M842.1 2405.2L917.4 2364.9" stroke-width="3.56"/>
<path d="M808.3 2475.3L821.3 2454.5L831.7 2459.7" stroke-width="3.56"/>
<path d="M818.7 2459.2L827.8 2461.8L821.3 2467.5Z" stroke-width="3.56" fill="#000"/>
<path d="M595.3 2179.2C595.8 2177.9 595.8 2172.9 597.9 2171.4C600.1 2169.9 604.0 2168.8 608.3 2170.1C612.6 2171.4 618.3 2176.2 623.9 2179.2C629.5 2182.3 639.0 2186.8 642.1 2188.3" stroke-width="3.56"/>
<path d="M642.1 2188.3L704.9 2153.8" stroke-width="3.56"/>
<path d="M640.8 2187.0C641.0 2183.1 640.1 2170.6 642.1 2163.6C644.0 2156.7 647.7 2149.8 652.5 2145.5C657.2 2141.1 664.2 2138.3 670.6 2137.7C677.1 2137.0 684.5 2139.0 691.4 2141.6C698.4 2144.2 705.7 2147.8 712.2 2153.2C718.7 2158.7 724.8 2165.8 730.4 2174.0C736.0 2182.3 741.6 2192.6 746.0 2202.6C750.3 2212.6 754.2 2224.7 756.4 2233.8C758.5 2242.9 759.0 2252.4 759.0 2257.1C759.0 2261.9 756.8 2261.5 756.4 2262.3" stroke-width="3.56"/>
<path d="M595.3 2179.2C594.7 2184.0 591.4 2198.7 591.4 2207.8C591.4 2216.9 592.9 2225.5 595.3 2233.8C597.7 2242.0 601.0 2250.6 605.7 2257.1C610.5 2263.6 617.8 2268.4 623.9 2272.7C630.0 2277.1 639.0 2281.4 642.1 2283.1" stroke-width="3.56"/>
<path d="M642.1 2283.1L721.3 2240.3" stroke-width="3.56"/>
<path d="M642.1 2283.1C642.5 2287.0 642.5 2297.4 644.7 2306.5C646.8 2315.6 650.7 2328.1 655.1 2337.7C659.4 2347.2 664.6 2355.8 670.6 2363.6C676.7 2371.4 684.5 2379.0 691.4 2384.4C698.4 2389.8 704.8 2393.9 712.2 2396.1C719.6 2398.3 729.5 2398.9 735.6 2397.4C741.6 2395.9 744.7 2391.8 748.6 2387.0C752.5 2382.3 756.6 2375.3 759.0 2368.8C761.3 2362.3 762.6 2352.8 762.9 2348.1C763.1 2343.3 760.7 2341.6 760.3 2340.3" stroke-width="3.56"/>
<path d="M756.4 2262.3C758.5 2264.5 765.7 2270.1 769.4 2275.3C773.0 2280.5 776.5 2286.1 778.4 2293.5C780.4 2300.9 781.3 2312.1 781.0 2319.5C780.8 2326.8 780.6 2334.2 777.1 2337.7C773.7 2341.1 763.1 2339.8 760.3 2340.3" stroke-width="3.56"/>
<path d="M760.3 2340.3L770.6 2333.8L774.5 2341.6L764.2 2344.2" stroke-width="3.56"/>
<path d="M675.8 2168.8C676.3 2172.3 676.3 2183.1 678.4 2189.6C680.6 2196.1 684.1 2202.6 688.8 2207.8C693.6 2213.0 701.0 2216.9 707.0 2220.8C713.1 2224.7 721.7 2227.7 725.2 2231.2C728.7 2234.6 727.4 2239.8 727.8 2241.6" stroke-width="3.56"/>
<path d="M727.8 2241.6C728.2 2244.6 728.7 2252.8 730.4 2259.7C732.1 2266.7 734.7 2275.3 738.2 2283.1C741.6 2290.9 746.4 2299.6 751.2 2306.5C755.9 2313.4 762.9 2320.1 766.8 2324.7C770.6 2329.2 773.2 2332.3 774.5 2333.8" stroke-width="3.56"/>
<ellipse cx="656.4" cy="2092.2" rx="7.8" ry="13.0" transform="rotate(-22 656.4 2092.2)" stroke-width="3.56"/>
<ellipse cx="614.8" cy="2136.4" rx="7.8" ry="13.0" transform="rotate(-22 614.8 2136.4)" stroke-width="3.56"/>
<ellipse cx="701.8" cy="2105.2" rx="10.9" ry="16.6" transform="rotate(-22 701.8 2105.2)" stroke-width="3.56"/>
<ellipse cx="748.6" cy="2146.8" rx="7.8" ry="13.0" transform="rotate(-22 748.6 2146.8)" stroke-width="3.56"/>
<ellipse cx="784.9" cy="2237.7" rx="7.8" ry="13.0" transform="rotate(-22 784.9 2237.7)" stroke-width="3.56"/>
<ellipse cx="616.1" cy="2300.0" rx="7.8" ry="13.0" transform="rotate(-22 616.1 2300.0)" stroke-width="3.56"/>
<ellipse cx="655.1" cy="2397.4" rx="7.8" ry="13.0" transform="rotate(-22 655.1 2397.4)" stroke-width="3.56"/>
<ellipse cx="700.5" cy="2439.0" rx="10.9" ry="16.6" transform="rotate(-22 700.5 2439.0)" stroke-width="3.56"/>
<ellipse cx="747.3" cy="2453.2" rx="7.8" ry="13.0" transform="rotate(-22 747.3 2453.2)" stroke-width="3.56"/>
<ellipse cx="784.9" cy="2403.9" rx="7.8" ry="13.0" transform="rotate(-22 784.9 2403.9)" stroke-width="3.56"/>
<ellipse cx="569.9" cy="2516.9" rx="10.9" ry="16.1" transform="rotate(-25 569.9 2516.9)" stroke-width="3.56"/>
<path d="M559.0 2502.6L621.3 2467.5" stroke-width="3.56"/>
<path d="M621.3 2467.5C623.0 2467.5 628.4 2465.4 631.7 2467.5C634.9 2469.7 639.3 2476.6 640.8 2480.5C642.3 2484.4 640.8 2489.2 640.8 2490.9" stroke-width="3.56"/>
<path d="M640.8 2490.9L578.4 2531.2" stroke-width="3.56"/>
<path d="M559.0 2502.6C558.3 2504.3 555.1 2508.9 555.1 2513.0C555.1 2517.1 556.6 2523.9 559.0 2527.3C561.3 2530.6 566.1 2532.3 569.4 2533.0C572.6 2533.6 576.9 2531.5 578.4 2531.2" stroke-width="3.56"/>
<ellipse cx="991.1" cy="2283.7" rx="8.3" ry="14.1" transform="rotate(-25 991.1 2283.7)" stroke-width="4.50"/>
<path d="M986.0 2269.6L1029.5 2244.0" stroke-width="4.50"/>
<path d="M1029.5 2244.0C1031.1 2244.0 1036.5 2241.9 1039.1 2244.0C1041.8 2246.1 1044.8 2252.5 1045.5 2256.8C1046.3 2261.1 1043.9 2267.5 1043.6 2269.6" stroke-width="4.50"/>
<path d="M1043.6 2269.6L998.8 2297.1" stroke-width="4.50"/>
<path d="M998.8 2276.0L1032.7 2255.5" stroke-width="3.50"/>
<path d="M1003.9 2285.6L1039.1 2264.5" stroke-width="3.50"/>
<path d="M938.7 2311.2L973.2 2292.0" stroke-width="3.8"/>
<path d="M1029.5 2293.9L1135.1 2461.6" stroke-width="3.8"/>
<path d="M861.9 2466.7L943.2 2578.0" stroke-width="3.8"/>
<path d="M631.5 2533.2L728.8 2701.5" stroke-width="3.8"/>
<path d="M497.6 1832.7L10.3 2111.3L14.3 2618.1L131.8 2551.0" stroke-width="3.8"/>
<path d="M159.4 2188.2L268.3 2353.2" stroke-width="3.8"/>
<path d="M392.7 2829.0L573.2 2932.2" stroke-width="3.8"/>
<path d="M647.8 2359.0L504.5 2440.4L504.5 2654.2L463.2 2675.4" stroke-width="3.8"/>
<!-- p09_gears.py -->
<path d="M224.6 2441.4C224.9 2437.2 223.8 2424.1 226.2 2416.2C228.5 2408.4 232.5 2399.2 238.7 2394.2C245.0 2389.3 255.0 2385.9 263.9 2386.4C272.8 2386.9 283.2 2390.8 292.1 2397.4C301.0 2403.9 310.2 2414.7 317.3 2425.7C324.3 2436.6 330.6 2450.8 334.6 2463.4C338.5 2475.9 341.1 2491.1 340.8 2501.0C340.6 2511.0 337.4 2517.5 333.0 2523.0C328.5 2528.5 320.9 2532.7 314.1 2534.0C307.3 2535.3 299.0 2533.2 292.1 2530.9C285.3 2528.5 276.4 2521.7 273.3 2519.9" stroke-width="3.78"/>
<path d="M238.7 2393.6L298.4 2355.0" stroke-width="3.78"/>
<path d="M298.4 2355.0C301.6 2354.2 310.5 2350.0 317.3 2350.3C324.1 2350.5 331.9 2352.4 339.3 2356.5C346.6 2360.7 353.9 2367.0 361.3 2375.4C368.6 2383.8 377.0 2395.8 383.2 2406.8C389.5 2417.8 395.5 2430.9 399.0 2441.4C402.4 2451.8 403.4 2461.8 403.7 2469.6C403.9 2477.5 401.0 2485.3 400.5 2488.5" stroke-width="3.78"/>
<path d="M400.5 2488.5L333.0 2524.6" stroke-width="3.78"/>
<path d="M251.3 2388.0L307.2 2355.6" stroke-width="5.60"/>
<path d="M267.0 2385.4L322.9 2353.1" stroke-width="5.60"/>
<path d="M282.7 2391.7L338.6 2359.4" stroke-width="3.15"/>
<path d="M296.9 2402.1L357.2 2367.5" stroke-width="3.15"/>
<path d="M314.1 2420.9L374.5 2386.4" stroke-width="3.15"/>
<path d="M326.7 2442.9L387.0 2408.4" stroke-width="3.15"/>
<path d="M336.1 2468.1L396.4 2433.5" stroke-width="3.15"/>
<path d="M340.8 2491.6L401.2 2457.1" stroke-width="3.15"/>
<path d="M339.3 2513.6L399.6 2479.1" stroke-width="3.15"/>
<path d="M337.7 2516.8L392.7 2485.3" stroke-width="4.90"/>
<path d="M361.3 2367.5L405.2 2344.0" stroke-width="3.78"/>
<path d="M405.2 2344.0C407.9 2343.7 415.2 2340.3 420.9 2342.4C426.7 2344.5 434.6 2350.5 439.8 2356.5C445.0 2362.6 449.5 2371.7 452.4 2378.5C455.2 2385.3 457.6 2391.6 457.1 2397.4C456.5 2403.1 450.5 2410.5 449.2 2413.1" stroke-width="3.78"/>
<path d="M449.2 2413.1L403.7 2438.2" stroke-width="3.78"/>
<path d="M227.7 2762.4C228.0 2758.2 227.0 2745.1 229.3 2737.3C231.7 2729.4 235.6 2720.3 241.9 2715.3C248.2 2710.3 258.1 2706.9 267.0 2707.4C275.9 2708.0 286.4 2711.9 295.3 2718.4C304.2 2725.0 313.4 2735.7 320.4 2746.7C327.5 2757.7 333.8 2771.8 337.7 2784.4C341.6 2797.0 344.2 2812.1 344.0 2822.1C343.7 2832.0 340.6 2838.6 336.1 2844.1C331.7 2849.6 324.1 2853.8 317.3 2855.1C310.5 2856.4 302.1 2854.3 295.3 2851.9C288.5 2849.6 279.6 2842.8 276.4 2840.9" stroke-width="3.78"/>
<path d="M241.9 2714.7L301.6 2676.0" stroke-width="3.78"/>
<path d="M301.6 2676.0C304.7 2675.2 313.6 2671.0 320.4 2671.3C327.2 2671.6 335.1 2673.4 342.4 2677.6C349.7 2681.8 357.1 2688.1 364.4 2696.4C371.7 2704.8 380.1 2716.9 386.4 2727.9C392.7 2738.8 398.7 2751.9 402.1 2762.4C405.5 2772.9 406.5 2782.8 406.8 2790.7C407.1 2798.5 404.2 2806.4 403.7 2809.5" stroke-width="3.78"/>
<path d="M403.7 2809.5L336.1 2845.7" stroke-width="3.78"/>
<path d="M254.5 2709.0L310.4 2676.6" stroke-width="5.60"/>
<path d="M270.2 2706.5L326.1 2674.1" stroke-width="5.60"/>
<path d="M285.9 2712.8L341.8 2680.4" stroke-width="3.15"/>
<path d="M300.0 2723.1L360.3 2688.6" stroke-width="3.15"/>
<path d="M317.3 2742.0L377.6 2707.4" stroke-width="3.15"/>
<path d="M329.8 2764.0L390.2 2729.4" stroke-width="3.15"/>
<path d="M339.3 2789.1L399.6 2754.6" stroke-width="3.15"/>
<path d="M344.0 2812.7L404.3 2778.1" stroke-width="3.15"/>
<path d="M342.4 2834.7L402.7 2800.1" stroke-width="3.15"/>
<path d="M340.8 2837.8L395.8 2806.4" stroke-width="4.90"/>
<path d="M364.4 2688.6L408.4 2665.0" stroke-width="3.78"/>
<path d="M408.4 2665.0C411.0 2664.8 418.3 2661.4 424.1 2663.5C429.8 2665.5 437.7 2671.6 442.9 2677.6C448.2 2683.6 452.6 2692.8 455.5 2699.6C458.4 2706.4 460.7 2712.7 460.2 2718.4C459.7 2724.2 453.7 2731.5 452.4 2734.1" stroke-width="3.78"/>
<path d="M452.4 2734.1L406.8 2759.3" stroke-width="3.78"/>
<path d="M226.2 2447.6L267.0 2425.7" stroke-width="3.78"/>
<path d="M267.0 2425.7C269.6 2425.4 277.5 2422.0 282.7 2424.1C288.0 2426.2 293.7 2431.7 298.4 2438.2C303.1 2444.8 308.4 2455.5 311.0 2463.4C313.6 2471.2 314.7 2479.6 314.1 2485.3C313.6 2491.1 308.9 2495.8 307.9 2497.9" stroke-width="3.78"/>
<path d="M307.9 2497.9L241.9 2537.2" stroke-width="3.78"/>
<path d="M191.6 2466.5L226.2 2447.6" stroke-width="3.78"/>
<path d="M191.6 2471.2C194.2 2470.9 201.6 2467.3 207.3 2469.6C213.1 2472.0 220.9 2479.1 226.2 2485.3C231.4 2491.6 235.9 2500.5 238.7 2507.3C241.6 2514.1 243.5 2520.9 243.5 2526.2C243.5 2531.4 239.5 2536.6 238.7 2538.7" stroke-width="3.78"/>
<path d="M185.3 2480.6C188.0 2480.6 195.8 2478.3 201.0 2480.6C206.3 2483.0 212.3 2488.7 216.8 2494.8C221.2 2500.8 225.4 2509.9 227.7 2516.8C230.1 2523.6 230.4 2532.5 230.9 2535.6" stroke-width="3.78"/>
<path d="M141.4 2513.6C142.9 2508.9 146.1 2503.1 150.8 2501.0C155.5 2499.0 163.9 2497.9 169.6 2501.0C175.4 2504.2 181.7 2512.6 185.3 2519.9C189.0 2527.2 191.6 2538.2 191.6 2545.0C191.6 2551.8 189.0 2557.6 185.3 2560.7C181.7 2563.9 175.4 2566.0 169.6 2563.9C163.9 2561.8 155.5 2553.9 150.8 2548.2C146.1 2542.4 142.9 2535.1 141.4 2529.3C139.8 2523.6 139.8 2518.3 141.4 2513.6Z" stroke-width="3.78"/>
<path d="M150.8 2499.5L188.5 2479.1" stroke-width="3.78"/>
<path d="M185.3 2562.3L226.2 2538.7" stroke-width="3.78"/>
<path d="M169.6 2501.0L201.0 2483.8" stroke-width="3.15"/>
<path d="M180.6 2513.6L210.5 2496.3" stroke-width="3.15"/>
<path d="M187.9 2529.3L218.3 2511.1" stroke-width="3.15"/>
<path d="M191.0 2545.0L223.0 2526.2" stroke-width="3.15"/>
<path d="M188.5 2557.6L224.6 2537.2" stroke-width="3.15"/>
<ellipse cx="169.0" cy="2530.3" rx="6.3" ry="8.5" transform="rotate(-20 169.0 2530.3)" stroke-width="4.90"/>
<path d="M131.9 2551.3L15.7 2614.1" stroke-width="3.8"/>
<path d="M194.8 2788.5L270.2 2746.1" stroke-width="3.78"/>
<path d="M270.2 2746.1C272.8 2745.8 280.6 2742.4 285.9 2744.5C291.1 2746.6 296.9 2752.1 301.6 2758.6C306.3 2765.2 311.5 2775.9 314.1 2783.8C316.8 2791.6 317.8 2800.0 317.3 2805.8C316.8 2811.5 312.0 2816.2 311.0 2818.3" stroke-width="3.78"/>
<path d="M311.0 2818.3L232.5 2865.4" stroke-width="3.78"/>
<path d="M174.3 2812.0C175.7 2807.3 177.7 2799.7 182.2 2796.3C186.6 2792.9 194.8 2789.5 201.0 2791.6C207.3 2793.7 214.4 2800.8 219.9 2808.9C225.4 2817.0 231.4 2831.4 234.0 2840.3C236.6 2849.2 237.4 2857.6 235.6 2862.3C233.8 2867.0 228.3 2868.6 223.0 2868.6C217.8 2868.6 210.5 2866.5 204.2 2862.3C197.9 2858.1 190.3 2849.7 185.3 2843.5C180.4 2837.2 176.2 2829.8 174.3 2824.6C172.5 2819.4 173.0 2816.8 174.3 2812.0Z" stroke-width="3.78"/>
<ellipse cx="204.2" cy="2830.9" rx="15.7" ry="24.5" transform="rotate(-20 204.2 2830.9)" stroke-width="5.60"/>
<ellipse cx="205.8" cy="2831.5" rx="6.9" ry="12.6" transform="rotate(-20 205.8 2831.5)" stroke-width="4.20"/>
<!-- p10_pumpbody.py -->
<path d="M504.4 1090.3L542.1 1067.2" stroke-width="3.99"/>
<path d="M542.1 1067.2C543.8 1066.9 549.1 1064.4 552.6 1065.1C556.1 1065.8 561.3 1070.4 563.0 1071.4" stroke-width="3.99"/>
<path d="M563.0 1071.4L579.0 1081.9L579.0 1119.6" stroke-width="3.99"/>
<path d="M579.0 1119.6C581.2 1123.8 587.3 1135.3 592.4 1144.7C597.4 1154.1 606.3 1170.9 609.1 1176.1" stroke-width="3.99"/>
<path d="M414.3 1140.5L504.4 1090.3" stroke-width="4.2" stroke-dasharray="42 10 8 10"/>
<path d="M414.3 1140.5L408.1 1153.1L408.1 1207.5" stroke-width="3.99"/>
<path d="M414.3 1140.5L470.9 1165.7" stroke-width="3.99"/>
<path d="M408.1 1207.5L449.9 1179.1" stroke-width="3.99"/>
<path d="M349.4 1241.0L387.1 1224.3L449.9 1234.8" stroke-width="3.99"/>
<path d="M449.9 1234.8L531.6 1185.8" stroke-width="3.99"/>
<path d="M498.1 1232.7L563.0 1197.1" stroke-width="3.99"/>
<path d="M523.2 1121.7C521.6 1122.0 516.1 1121.9 513.6 1123.8C511.2 1125.7 508.0 1129.5 508.6 1133.0C509.1 1136.5 515.6 1142.8 517.0 1144.7" stroke-width="3.99"/>
<path d="M517.0 1144.7L680.3 1230.6" stroke-width="3.99"/>
<path d="M596.5 1180.3L625.9 1180.3" stroke-width="3.99"/>
<path d="M625.9 1180.3C629.4 1178.2 640.5 1170.5 646.8 1167.7C653.1 1165.0 658.7 1162.5 663.6 1163.6C668.4 1164.6 672.6 1168.8 676.1 1174.0C679.6 1179.3 681.7 1186.2 684.5 1195.0C687.3 1203.7 691.5 1221.2 692.9 1226.4" stroke-width="3.99"/>
<path d="M680.3 1230.6L701.3 1230.6L776.6 1190.8" stroke-width="3.99"/>
<path d="M776.6 1190.8C779.4 1191.1 788.5 1190.1 793.4 1192.9C798.3 1195.7 802.1 1201.6 806.0 1207.5C809.8 1213.5 815.0 1221.5 816.4 1228.5C817.8 1235.5 814.7 1245.9 814.3 1249.4" stroke-width="3.99"/>
<path d="M814.3 1249.4L782.9 1266.2" stroke-width="3.99"/>
<path d="M778.7 1259.9L778.7 1337.4" stroke-width="3.99"/>
<path d="M778.7 1331.1L793.4 1339.5" stroke-width="3.99"/>
<path d="M793.4 1339.5C796.2 1341.6 805.6 1346.1 810.2 1352.0C814.7 1358.0 817.8 1366.4 820.6 1375.1C823.4 1383.8 825.9 1399.5 826.9 1404.4" stroke-width="3.99"/>
<path d="M826.9 1404.4C826.2 1410.7 824.8 1430.2 822.7 1442.1C820.6 1454.0 817.1 1465.8 814.3 1475.6C811.6 1485.4 808.8 1494.5 806.0 1500.7C803.2 1507.0 799.0 1511.2 797.6 1513.3" stroke-width="4.2" stroke-dasharray="42 10 8 10"/>
<path d="M797.6 1513.3L726.4 1544.7" stroke-width="3.99"/>
<path d="M726.4 1544.7C725.3 1544.2 721.5 1542.8 720.1 1541.4C718.7 1540.0 718.4 1537.2 718.0 1536.3" stroke-width="3.99"/>
<path d="M730.6 1368.8L772.5 1345.8" stroke-width="3.99"/>
<path d="M747.3 1364.6L785.0 1343.7" stroke-width="3.99"/>
<path d="M787.1 1442.1C787.1 1440.0 788.2 1433.4 787.1 1429.5C786.1 1425.7 784.7 1421.2 780.8 1419.1C777.0 1417.0 769.7 1414.5 764.1 1417.0C758.5 1419.4 751.2 1427.4 747.3 1433.7C743.5 1440.0 741.0 1448.4 741.0 1454.7C741.0 1460.9 743.5 1468.3 747.3 1471.4C751.2 1474.6 761.3 1473.2 764.1 1473.5" stroke-width="3.99"/>
<path d="M794.7 1365.9C793.4 1365.4 789.4 1362.5 787.1 1363.4C784.8 1364.2 781.4 1368.4 780.8 1370.9C780.3 1373.4 782.2 1376.9 783.8 1378.4C785.4 1380.0 789.4 1379.8 790.5 1380.1" stroke-width="3.99"/>
<path d="M798.8 1487.3C797.6 1486.9 793.6 1484.0 791.3 1484.8C789.0 1485.7 785.6 1489.8 785.0 1492.4C784.5 1494.9 786.4 1498.4 788.0 1499.9C789.6 1501.4 793.5 1501.3 794.7 1501.6" stroke-width="3.99"/>
<path d="M742.3 1516.6C741.0 1516.2 737.1 1513.3 734.8 1514.1C732.5 1515.0 729.0 1519.2 728.5 1521.7C727.9 1524.2 729.8 1527.7 731.4 1529.2C733.0 1530.8 737.0 1530.6 738.1 1530.9" stroke-width="3.99"/>
<path d="M686.6 1312.3L688.7 1458.8" stroke-width="3.99"/>
<path d="M688.7 1458.8C690.8 1462.3 699.9 1472.8 701.3 1479.8C702.7 1486.8 699.2 1491.7 697.1 1500.7C695.0 1509.8 690.1 1520.3 688.7 1534.2C687.3 1548.2 688.7 1576.1 688.7 1584.5" stroke-width="3.99"/>
<path d="M688.7 1580.3L688.7 1647.3" stroke-width="3.99"/>
<path d="M703.4 1458.8L707.5 1500.7" stroke-width="5.70"/>
<path d="M782.9 1521.7L782.9 1571.9" stroke-width="3.99"/>
<path d="M793.4 1517.5C796.9 1520.3 809.5 1528.0 814.3 1534.2C819.2 1540.5 822.7 1548.2 822.7 1555.2C822.7 1562.2 815.7 1572.6 814.3 1576.1" stroke-width="3.99"/>
<path d="M814.3 1576.1L692.9 1643.1" stroke-width="4.2" stroke-dasharray="42 10 8 10"/>
<path d="M688.7 1647.3L676.1 1651.5L628.0 1622.2" stroke-width="3.99"/>
<path d="M628.0 1622.2L692.9 1584.5" stroke-width="3.99"/>
<path d="M628.0 1622.2L491.8 1687.1L408.1 1651.5" stroke-width="3.99"/>
<path d="M408.1 1651.5C401.1 1649.4 380.1 1643.1 366.2 1639.0C352.2 1634.8 331.3 1628.5 324.3 1626.4" stroke-width="3.99"/>
<path d="M575.6 1639.0L592.4 1592.9" stroke-width="3.99"/>
<path d="M598.6 1634.8L598.6 1601.3" stroke-width="3.99"/>
<path d="M575.6 1639.0L600.7 1632.7" stroke-width="3.99"/>
<path d="M449.9 1178.2C455.5 1177.5 472.3 1174.0 483.5 1174.0C494.6 1174.0 505.8 1174.7 517.0 1178.2C528.1 1181.7 539.3 1187.3 550.5 1195.0C561.6 1202.7 572.8 1213.1 584.0 1224.3C595.1 1235.5 607.7 1250.1 617.5 1262.0C627.3 1273.9 635.3 1284.3 642.6 1295.5C649.9 1306.7 658.3 1323.4 661.5 1329.0" stroke-width="3.99"/>
<path d="M320.1 1295.5C322.9 1290.6 329.2 1274.6 336.9 1266.2C344.5 1257.8 355.7 1249.8 366.2 1245.2C376.6 1240.7 388.5 1239.0 399.7 1239.0C410.9 1239.0 422.0 1241.4 433.2 1245.2C444.4 1249.1 455.5 1255.0 466.7 1262.0C477.9 1269.0 490.1 1277.7 500.2 1287.1C510.3 1296.5 522.9 1313.3 527.4 1318.5" stroke-width="3.99"/>
<path d="M353.6 1259.9L391.3 1257.8L412.3 1268.3" stroke-width="3.99"/>
<path d="M349.4 1320.6L441.6 1257.8" stroke-width="3.99"/>
<path d="M387.1 1224.3L408.1 1207.5" stroke-width="3.99"/>
<path d="M619.6 1452.6L682.4 1419.1" stroke-width="3.99"/>
<path d="M611.2 1578.2L678.2 1544.7" stroke-width="3.99"/>
<path d="M230.1 1295.5L261.5 1276.6" stroke-width="3.99"/>
<path d="M261.5 1276.6C262.9 1276.6 267.1 1275.6 269.8 1276.6C272.6 1277.7 276.8 1281.9 278.2 1282.9" stroke-width="3.99"/>
<path d="M278.2 1282.9L357.8 1326.9" stroke-width="3.99"/>
<path d="M357.8 1326.9L433.2 1366.7" stroke-width="4.2" stroke-dasharray="42 10 8 10"/>
<path d="M433.2 1366.7C436.7 1369.5 448.6 1376.5 454.1 1383.5C459.7 1390.4 463.9 1398.8 466.7 1408.6C469.5 1418.4 467.4 1432.3 470.9 1442.1C474.4 1451.9 482.1 1458.8 487.6 1467.2C493.2 1475.6 499.5 1481.2 504.4 1492.4C509.3 1503.5 515.6 1519.6 517.0 1534.2C518.4 1548.9 516.3 1569.8 512.8 1580.3C509.3 1590.8 498.8 1594.3 496.0 1597.1" stroke-width="3.99"/>
<path d="M487.6 1536.3L491.8 1588.7" stroke-width="3.99"/>
<path d="M496.0 1593.7L466.7 1597.1" stroke-width="3.99"/>
<path d="M466.7 1597.1L466.7 1622.2L429.0 1641.0L269.8 1548.9" stroke-width="3.99"/>
<path d="M445.8 1618.0C445.1 1615.6 440.5 1606.8 441.6 1603.4C442.6 1599.9 447.2 1598.1 452.0 1597.1C456.9 1596.0 467.7 1597.1 470.9 1597.1" stroke-width="3.99"/>
<path d="M242.6 1295.5L403.9 1385.5" stroke-width="3.99"/>
<path d="M230.1 1295.5C229.0 1297.6 224.8 1303.2 223.8 1308.1C222.7 1312.9 227.3 1322.0 223.8 1324.8C220.3 1327.6 209.8 1323.4 202.8 1324.8C195.8 1326.2 187.5 1329.7 181.9 1333.2C176.3 1336.7 171.4 1335.3 169.3 1345.8C167.2 1356.2 167.9 1381.4 169.3 1396.0C170.7 1410.7 173.5 1423.2 177.7 1433.7C181.9 1444.2 188.2 1451.9 194.5 1458.8C200.7 1465.8 209.8 1471.4 215.4 1475.6C221.0 1479.8 225.9 1482.6 228.0 1484.0" stroke-width="3.99"/>
<path d="M211.2 1335.3C212.6 1334.2 217.5 1330.8 219.6 1329.0C221.7 1327.3 223.1 1325.5 223.8 1324.8" stroke-width="3.99"/>
<path d="M236.3 1314.3C238.4 1314.0 245.1 1309.8 248.9 1312.3C252.7 1314.7 258.3 1324.5 259.4 1329.0C260.4 1333.5 257.3 1337.7 255.2 1339.5C253.1 1341.2 248.2 1339.5 246.8 1339.5" stroke-width="3.99"/>
<path d="M181.9 1379.3C184.0 1378.6 189.9 1373.0 194.5 1375.1C199.0 1377.2 207.0 1386.2 209.1 1391.8C211.2 1397.4 209.5 1405.4 207.0 1408.6C204.6 1411.7 196.5 1410.3 194.5 1410.7" stroke-width="3.99"/>
<path d="M452.0 1525.9C454.5 1525.5 461.8 1521.0 466.7 1523.8C471.6 1526.6 479.6 1537.0 481.4 1542.6C483.1 1548.2 479.6 1554.5 477.2 1557.3C474.7 1560.1 468.4 1559.0 466.7 1559.4" stroke-width="3.99"/>
<path d="M408.1 1597.1C410.2 1596.7 416.8 1592.9 420.6 1595.0C424.5 1597.1 430.1 1605.1 431.1 1609.6C432.1 1614.2 429.4 1620.1 426.9 1622.2C424.5 1624.3 418.2 1622.2 416.4 1622.2" stroke-width="3.99"/>
<path d="M223.8 1467.2C223.4 1458.8 219.6 1432.3 221.7 1417.0C223.8 1401.6 229.0 1385.9 236.3 1375.1C243.7 1364.3 255.2 1356.2 265.7 1352.0C276.1 1347.9 289.4 1348.9 299.2 1349.9C308.9 1351.0 320.1 1356.9 324.3 1358.3" stroke-width="3.99"/>
<path d="M238.4 1437.9C238.8 1432.3 237.4 1414.2 240.5 1404.4C243.7 1394.6 249.6 1384.9 257.3 1379.3C265.0 1373.7 276.1 1369.5 286.6 1370.9C297.1 1372.3 310.3 1380.7 320.1 1387.6C329.9 1394.6 339.0 1405.8 345.2 1412.8C351.5 1419.8 355.7 1426.7 357.8 1429.5" stroke-width="3.99"/>
<path d="M357.8 1429.5C360.6 1435.1 369.7 1451.9 374.6 1463.0C379.4 1474.2 384.7 1485.4 387.1 1496.5C389.6 1507.7 390.6 1519.6 389.2 1530.1C387.8 1540.5 384.0 1552.4 378.7 1559.4C373.5 1566.4 366.2 1570.5 357.8 1571.9C349.4 1573.3 336.9 1570.2 328.5 1567.7C320.1 1565.3 311.0 1559.0 307.5 1557.3" stroke-width="4.2" stroke-dasharray="42 10 8 10"/>
<path d="M403.9 1534.2C403.2 1539.1 404.6 1555.2 399.7 1563.6C394.8 1571.9 384.3 1580.3 374.6 1584.5C364.8 1588.7 352.2 1590.8 341.0 1588.7C329.9 1586.6 317.3 1577.5 307.5 1571.9C297.8 1566.4 288.7 1559.0 282.4 1555.2C276.1 1551.3 271.9 1549.9 269.8 1548.9" stroke-width="3.99"/>
<path d="M424.8 1517.5C424.1 1523.1 423.4 1541.9 420.6 1551.0C417.8 1560.1 412.9 1567.1 408.1 1571.9C403.2 1576.8 394.1 1578.9 391.3 1580.3" stroke-width="3.99"/>
<path d="M248.9 1362.5C253.8 1361.8 268.4 1357.3 278.2 1358.3C288.0 1359.4 302.7 1367.1 307.5 1368.8" stroke-width="3.99"/>
<path d="M215.4 1494.5L330.6 1427.4" stroke-width="3.99"/>
<path d="M244.7 1557.3L366.2 1490.3" stroke-width="3.99"/>
<path d="M215.4 1494.5C212.9 1495.5 203.9 1496.2 200.7 1500.7C197.6 1505.3 195.5 1514.0 196.5 1521.7C197.6 1529.4 202.5 1539.8 207.0 1546.8C211.6 1553.8 218.2 1560.8 223.8 1563.6C229.4 1566.4 237.0 1564.6 240.5 1563.6C244.0 1562.5 244.0 1558.3 244.7 1557.3" stroke-width="3.99"/>
<path d="M244.7 1534.2L244.7 1559.4" stroke-width="3.99"/>
<path d="M215.4 1494.5C216.8 1496.2 221.3 1502.1 223.8 1504.9C226.2 1507.7 229.0 1510.2 230.1 1511.2" stroke-width="3.99"/>
<path d="M267.7 1548.9L286.6 1567.7L303.4 1601.3" stroke-width="3.99"/>
<path d="M303.4 1601.3C306.1 1604.7 313.8 1617.3 320.1 1622.2C326.4 1627.1 333.4 1628.5 341.0 1630.6C348.7 1632.7 362.0 1634.1 366.2 1634.8" stroke-width="4.2" stroke-dasharray="42 10 8 10"/>
<!-- p11_labels.py -->
<text x="1949.7" y="179.0" font-size="81" text-anchor="middle">6</text>
<text x="1735.3" y="307.6" font-size="81" text-anchor="middle">7</text>
<text x="1458.8" y="464.3" font-size="81" text-anchor="middle">8</text>
<text x="1180.3" y="512.0" font-size="81" text-anchor="middle">1</text>
<text x="1002.5" y="735.2" font-size="81" text-anchor="middle" letter-spacing="-2">16</text>
<text x="739.6" y="874.8" font-size="81" text-anchor="middle" letter-spacing="-2">15</text>
<text x="2128.2" y="1057.8" font-size="81" text-anchor="middle" letter-spacing="-2">11</text>
<text x="1852.0" y="1173.0" font-size="81" text-anchor="middle" letter-spacing="-2">17</text>
<text x="1970.9" y="1169.8" font-size="81" text-anchor="middle" letter-spacing="-2">12</text>
<text x="1691.1" y="1269.0" font-size="81" text-anchor="middle" letter-spacing="-2">18</text>
<text x="2205.5" y="1692.4" font-size="81" text-anchor="middle" letter-spacing="-2">12</text>
<text x="1409.6" y="1406.8" font-size="81" text-anchor="middle" letter-spacing="-2">14</text>
<text x="2110.2" y="1972.0" font-size="81" text-anchor="middle">3</text>
<text x="1895.5" y="2082.0" font-size="81" text-anchor="middle">9</text>
<text x="1499.9" y="2327.2" font-size="81" text-anchor="middle">7</text>
<text x="1664.7" y="2231.2" font-size="81" text-anchor="middle">8</text>
<text x="1319.2" y="2439.2" font-size="81" text-anchor="middle">6</text>
<text x="1157.0" y="2533.2" font-size="81" text-anchor="middle" letter-spacing="-2">13</text>
<text x="969.8" y="2653.5" font-size="81" text-anchor="middle">2</text>
<text x="750.6" y="2773.8" font-size="81" text-anchor="middle">9</text>
<text x="134.8" y="2175.5" font-size="81" text-anchor="middle">4</text>
<text x="600.5" y="2984.0" font-size="81" text-anchor="middle">5</text>
<text x="2338.5" y="1591.8" font-size="81" text-anchor="middle">1</text>
<text x="2362" y="1591.8" font-size="77" style="font-family:&quot;Liberation Sans&quot;,sans-serif">0</text>
<path d="M1200.0 520.0L1254.7 646.9" stroke-width="4.6"/>
<path d="M1296.8 1135.0L1388.0 1338.7" stroke-width="3.8"/>
</svg>
</body></html>
